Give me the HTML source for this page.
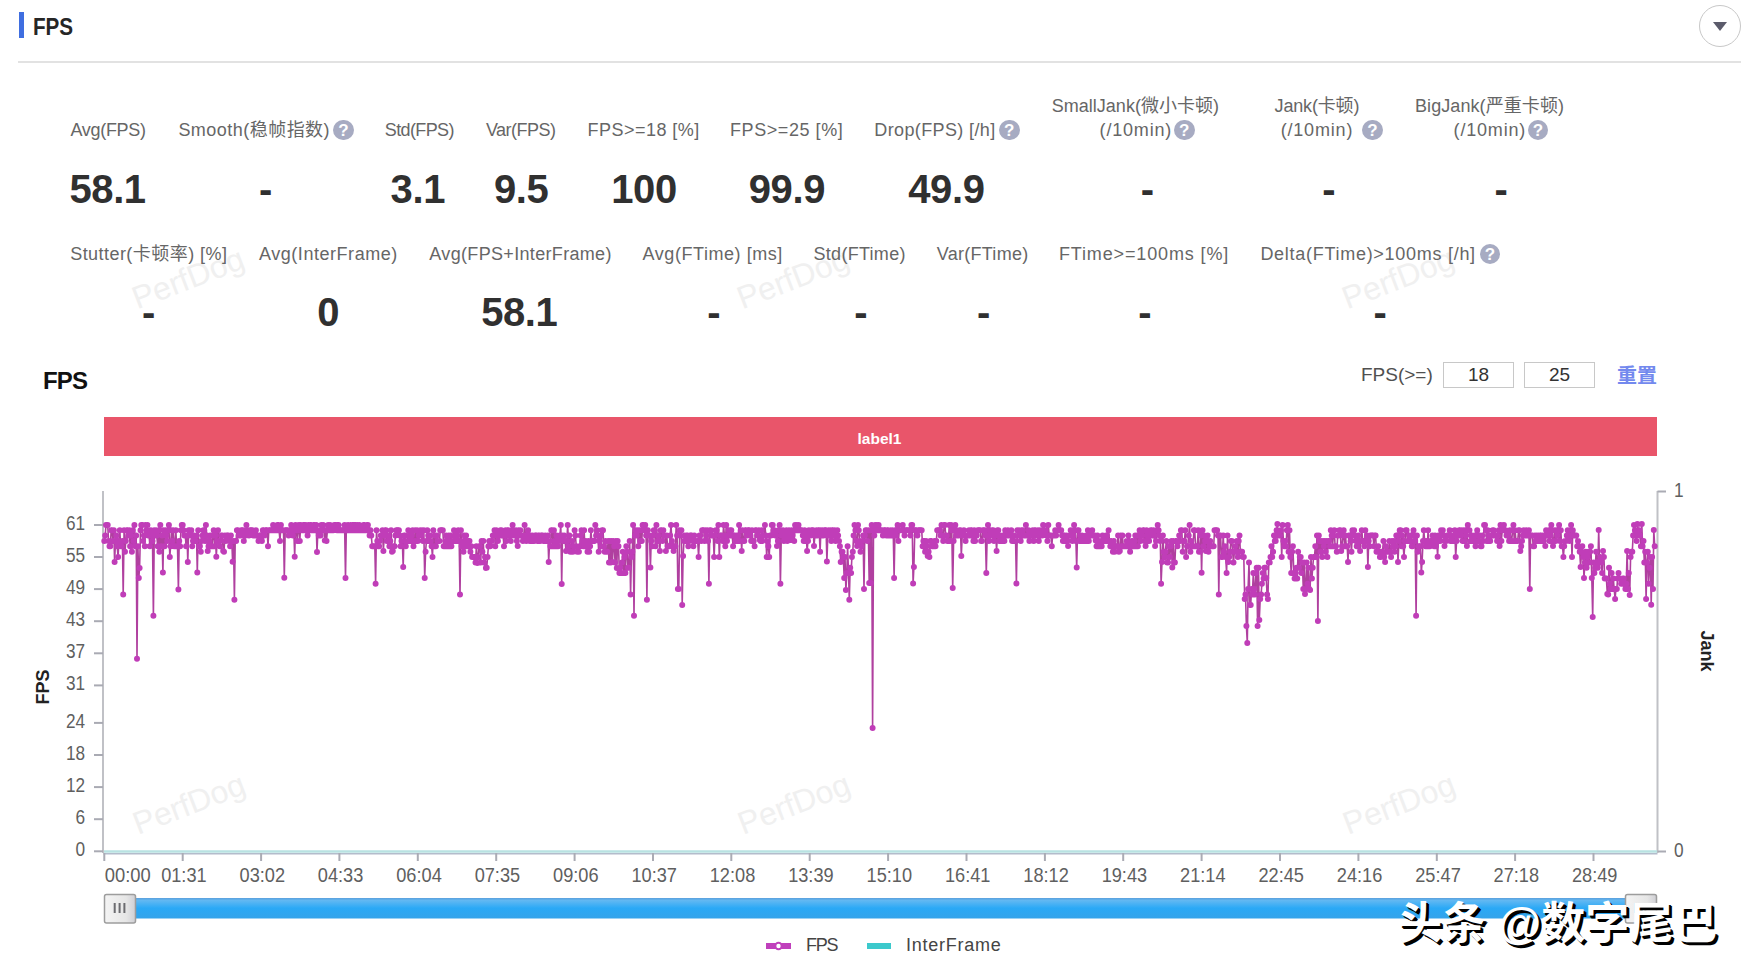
<!DOCTYPE html>
<html lang="zh-CN">
<head>
<meta charset="utf-8">
<title>FPS</title>
<style>
html,body{margin:0;padding:0;background:#fff;}
body{width:1750px;height:976px;position:relative;overflow:hidden;
  font-family:"Liberation Sans","Noto Sans CJK SC",sans-serif;color:#333;}
.a{position:absolute;white-space:nowrap;}
.c{transform:translateX(-50%);}
.bar{left:19px;top:12px;width:5px;height:26px;background:#3f6ee0;}
.title{left:33px;top:13px;font-size:24px;font-weight:bold;color:#262626;letter-spacing:0;transform:scaleX(0.86);transform-origin:0 0;}
.sep{left:18px;top:60.5px;width:1723px;height:2px;background:#e2e2e2;}
.circ{left:1699px;top:4.5px;width:42px;height:42px;border:1.8px solid #c8c8c8;border-radius:50%;box-sizing:border-box;}
.tri{left:1712.5px;top:22.2px;width:0;height:0;border-left:7px solid transparent;border-right:7px solid transparent;border-top:9px solid #5b5b6b;}
.lbl{font-size:18px;color:#666;line-height:24px;}
.val{font-size:40px;font-weight:bold;color:#303030;line-height:40px;letter-spacing:-0.4px;}
.q{width:20.5px;height:20.5px;border-radius:50%;background:#a7abc2;color:#fff;font-size:17px;font-weight:bold;line-height:21.5px;text-align:center;}
.wm{font-size:32px;color:#f0f0f0;transform:rotate(-21deg);transform-origin:0 100%;}
.sub{left:43px;top:367px;font-size:24px;font-weight:bold;color:#111;letter-spacing:-0.8px;}
.inp{box-sizing:border-box;height:26px;border:1px solid #c8c8c8;font-size:19px;color:#333;text-align:center;line-height:24px;}
.tick{font-size:18px;color:#666;}
</style>
</head>
<body>
<div class="a bar"></div>
<div class="a title">FPS</div>
<div class="a sep"></div>
<div class="a circ"></div>
<div class="a tri"></div>

<!-- watermarks -->
<div class="a wm" style="left:140px;top:280px;">PerfDog</div>
<div class="a wm" style="left:745px;top:280px;">PerfDog</div>
<div class="a wm" style="left:1350px;top:280px;">PerfDog</div>

<div class="a lbl" id="l1" style="left:70.4px;top:117.8px;letter-spacing:-0.30px;">Avg(FPS)</div>
<div class="a lbl" id="l2" style="left:178.4px;top:117.8px;letter-spacing:0.47px;">Smooth(稳帧指数)</div>
<div class="a lbl" id="l3" style="left:384.8px;top:117.8px;letter-spacing:-0.63px;">Std(FPS)</div>
<div class="a lbl" id="l4" style="left:485.9px;top:117.8px;letter-spacing:-0.51px;">Var(FPS)</div>
<div class="a lbl" id="l5" style="left:587.6px;top:117.8px;letter-spacing:0.46px;">FPS&gt;=18 [%]</div>
<div class="a lbl" id="l6" style="left:730.0px;top:117.8px;letter-spacing:0.57px;">FPS&gt;=25 [%]</div>
<div class="a lbl" id="l7" style="left:874.3px;top:117.8px;letter-spacing:0.38px;">Drop(FPS) [/h]</div>
<div class="a lbl" id="l8" style="left:1051.7px;top:94.0px;letter-spacing:0.02px;">SmallJank(微小卡顿)</div>
<div class="a lbl" id="l9" style="left:1099.6px;top:117.8px;letter-spacing:0.81px;">(/10min)</div>
<div class="a lbl" id="l10" style="left:1274.6px;top:94.0px;letter-spacing:-0.17px;">Jank(卡顿)</div>
<div class="a lbl" id="l11" style="left:1280.7px;top:117.8px;letter-spacing:0.81px;">(/10min)</div>
<div class="a lbl" id="l12" style="left:1415.0px;top:94.0px;letter-spacing:0.08px;">BigJank(严重卡顿)</div>
<div class="a lbl" id="l13" style="left:1453.6px;top:117.8px;letter-spacing:0.81px;">(/10min)</div>
<div class="a lbl" id="l14" style="left:70.2px;top:242.3px;letter-spacing:0.45px;">Stutter(卡顿率) [%]</div>
<div class="a lbl" id="l15" style="left:259.0px;top:242.3px;letter-spacing:0.54px;">Avg(InterFrame)</div>
<div class="a lbl" id="l16" style="left:429.3px;top:242.3px;letter-spacing:0.33px;">Avg(FPS+InterFrame)</div>
<div class="a lbl" id="l17" style="left:642.6px;top:242.3px;letter-spacing:0.55px;">Avg(FTime) [ms]</div>
<div class="a lbl" id="l18" style="left:813.5px;top:242.3px;letter-spacing:0.29px;">Std(FTime)</div>
<div class="a lbl" id="l19" style="left:936.7px;top:242.3px;letter-spacing:0.28px;">Var(FTime)</div>
<div class="a lbl" id="l20" style="left:1058.9px;top:242.3px;letter-spacing:0.87px;">FTime&gt;=100ms [%]</div>
<div class="a lbl" id="l21" style="left:1260.4px;top:242.3px;letter-spacing:0.72px;">Delta(FTime)&gt;100ms [/h]</div>
<div class="a q" style="left:333.1px;top:119.8px;">?</div>
<div class="a q" style="left:999.0px;top:119.8px;">?</div>
<div class="a q" style="left:1174.0px;top:119.8px;">?</div>
<div class="a q" style="left:1362.2px;top:119.8px;">?</div>
<div class="a q" style="left:1527.8px;top:119.8px;">?</div>
<div class="a q" style="left:1479.8px;top:243.8px;">?</div>
<div class="a val c" style="left:107.6px;top:168.9px;">58.1</div>
<div class="a val c" style="left:265.5px;top:168.9px;">-</div>
<div class="a val c" style="left:417.8px;top:168.9px;">3.1</div>
<div class="a val c" style="left:521.2px;top:168.9px;">9.5</div>
<div class="a val c" style="left:644.0px;top:168.9px;">100</div>
<div class="a val c" style="left:786.9px;top:168.9px;">99.9</div>
<div class="a val c" style="left:946.4px;top:168.9px;">49.9</div>
<div class="a val c" style="left:1147.3px;top:168.9px;">-</div>
<div class="a val c" style="left:1328.8px;top:168.9px;">-</div>
<div class="a val c" style="left:1501.0px;top:168.9px;">-</div>
<div class="a val c" style="left:148.5px;top:292.4px;">-</div>
<div class="a val c" style="left:328.1px;top:292.4px;">0</div>
<div class="a val c" style="left:519.3px;top:292.4px;">58.1</div>
<div class="a val c" style="left:713.7px;top:292.4px;">-</div>
<div class="a val c" style="left:860.8px;top:292.4px;">-</div>
<div class="a val c" style="left:983.4px;top:292.4px;">-</div>
<div class="a val c" style="left:1144.7px;top:292.4px;">-</div>
<div class="a val c" style="left:1380.0px;top:292.4px;">-</div>

<!-- chart sub header -->
<div class="a sub">FPS</div>
<div class="a lbl" style="left:1361px;top:363px;font-size:19px;color:#505050;">FPS(&gt;=)</div>
<div class="a inp" style="left:1443px;top:362px;width:71px;">18</div>
<div class="a inp" style="left:1524px;top:362px;width:71px;">25</div>
<div class="a" style="left:1617px;top:363px;font-size:20px;font-weight:bold;color:#7389ee;line-height:26px;">重置</div>

<svg class="a" style="left:0;top:0" width="1750" height="976" viewBox="0 0 1750 976">
<rect x="104" y="417" width="1553" height="39" fill="#e9556a"/>
<text x="879.5" y="443.5" font-size="15.5" font-weight="bold" fill="#fff" text-anchor="middle" font-family="Liberation Sans, sans-serif">label1</text>
<g stroke="#aaabb4" stroke-width="2" fill="none">
<path d="M103 491V853" stroke="#c0c1c6"/>
<path d="M1657.5 491V853" stroke="#c0c1c6"/>
<path d="M94 851.3H103" stroke="#a9aab3"/>
<path d="M94 819.2H103" stroke="#a9aab3"/>
<path d="M94 787.1H103" stroke="#a9aab3"/>
<path d="M94 755.0H103" stroke="#a9aab3"/>
<path d="M94 722.9H103" stroke="#a9aab3"/>
<path d="M94 685.4H103" stroke="#a9aab3"/>
<path d="M94 653.3H103" stroke="#a9aab3"/>
<path d="M94 621.2H103" stroke="#a9aab3"/>
<path d="M94 589.1H103" stroke="#a9aab3"/>
<path d="M94 557.0H103" stroke="#a9aab3"/>
<path d="M94 525.0H103" stroke="#a9aab3"/>
<path d="M1657.5 491.5H1666M1657.5 851.5H1666"/>
<path d="M103.5 853.8H1657.5" stroke="#b3bccb" stroke-width="1.6"/>
<path d="M104.3 853V861"/>
<path d="M182.7 853V861"/>
<path d="M261.1 853V861"/>
<path d="M339.4 853V861"/>
<path d="M417.8 853V861"/>
<path d="M496.2 853V861"/>
<path d="M574.6 853V861"/>
<path d="M653.0 853V861"/>
<path d="M731.3 853V861"/>
<path d="M809.7 853V861"/>
<path d="M888.1 853V861"/>
<path d="M966.5 853V861"/>
<path d="M1044.9 853V861"/>
<path d="M1123.2 853V861"/>
<path d="M1201.6 853V861"/>
<path d="M1280.0 853V861"/>
<path d="M1358.4 853V861"/>
<path d="M1436.8 853V861"/>
<path d="M1515.1 853V861"/>
<path d="M1593.5 853V861"/>
</g>
<g font-size="20" fill="#5f5f5f" font-family="Liberation Sans, sans-serif" text-anchor="end">
<text x="85" y="856.2" textLength="9.6" lengthAdjust="spacingAndGlyphs">0</text>
<text x="85" y="824.1" textLength="9.6" lengthAdjust="spacingAndGlyphs">6</text>
<text x="85" y="792.0" textLength="19.1" lengthAdjust="spacingAndGlyphs">12</text>
<text x="85" y="759.9" textLength="19.1" lengthAdjust="spacingAndGlyphs">18</text>
<text x="85" y="727.8" textLength="19.1" lengthAdjust="spacingAndGlyphs">24</text>
<text x="85" y="690.3" textLength="19.1" lengthAdjust="spacingAndGlyphs">31</text>
<text x="85" y="658.2" textLength="19.1" lengthAdjust="spacingAndGlyphs">37</text>
<text x="85" y="626.1" textLength="19.1" lengthAdjust="spacingAndGlyphs">43</text>
<text x="85" y="594.0" textLength="19.1" lengthAdjust="spacingAndGlyphs">49</text>
<text x="85" y="561.9" textLength="19.1" lengthAdjust="spacingAndGlyphs">55</text>
<text x="85" y="529.9" textLength="19.1" lengthAdjust="spacingAndGlyphs">61</text>
</g>
<g font-size="20" fill="#5f5f5f" font-family="Liberation Sans, sans-serif">
<text x="1674" y="496.5" textLength="9.6" lengthAdjust="spacingAndGlyphs">1</text><text x="1674" y="856.5" textLength="9.6" lengthAdjust="spacingAndGlyphs">0</text>
</g>
<g font-size="20" fill="#5f5f5f" font-family="Liberation Sans, sans-serif" text-anchor="middle">
<text x="104.8" y="881.5" text-anchor="start" textLength="46" lengthAdjust="spacingAndGlyphs">00:00</text>
<text x="183.9" y="881.5" textLength="45.5" lengthAdjust="spacingAndGlyphs">01:31</text>
<text x="262.3" y="881.5" textLength="45.5" lengthAdjust="spacingAndGlyphs">03:02</text>
<text x="340.6" y="881.5" textLength="45.5" lengthAdjust="spacingAndGlyphs">04:33</text>
<text x="419.0" y="881.5" textLength="45.5" lengthAdjust="spacingAndGlyphs">06:04</text>
<text x="497.4" y="881.5" textLength="45.5" lengthAdjust="spacingAndGlyphs">07:35</text>
<text x="575.8" y="881.5" textLength="45.5" lengthAdjust="spacingAndGlyphs">09:06</text>
<text x="654.2" y="881.5" textLength="45.5" lengthAdjust="spacingAndGlyphs">10:37</text>
<text x="732.5" y="881.5" textLength="45.5" lengthAdjust="spacingAndGlyphs">12:08</text>
<text x="810.9" y="881.5" textLength="45.5" lengthAdjust="spacingAndGlyphs">13:39</text>
<text x="889.3" y="881.5" textLength="45.5" lengthAdjust="spacingAndGlyphs">15:10</text>
<text x="967.7" y="881.5" textLength="45.5" lengthAdjust="spacingAndGlyphs">16:41</text>
<text x="1046.1" y="881.5" textLength="45.5" lengthAdjust="spacingAndGlyphs">18:12</text>
<text x="1124.4" y="881.5" textLength="45.5" lengthAdjust="spacingAndGlyphs">19:43</text>
<text x="1202.8" y="881.5" textLength="45.5" lengthAdjust="spacingAndGlyphs">21:14</text>
<text x="1281.2" y="881.5" textLength="45.5" lengthAdjust="spacingAndGlyphs">22:45</text>
<text x="1359.6" y="881.5" textLength="45.5" lengthAdjust="spacingAndGlyphs">24:16</text>
<text x="1438.0" y="881.5" textLength="45.5" lengthAdjust="spacingAndGlyphs">25:47</text>
<text x="1516.3" y="881.5" textLength="45.5" lengthAdjust="spacingAndGlyphs">27:18</text>
<text x="1594.7" y="881.5" textLength="45.5" lengthAdjust="spacingAndGlyphs">28:49</text>
</g>
<text transform="translate(49 687) rotate(-90)" font-size="18" font-weight="bold" fill="#222" text-anchor="middle" font-family="Liberation Sans, sans-serif">FPS</text>
<text transform="translate(1701 651) rotate(90)" font-size="18" font-weight="bold" fill="#222" text-anchor="middle" font-family="Liberation Sans, sans-serif">Jank</text>
<text transform="translate(138 835) rotate(-21)" font-size="32" fill="#f0f0f0" font-family="Liberation Sans, sans-serif">PerfDog</text>
<text transform="translate(743 835) rotate(-21)" font-size="32" fill="#f0f0f0" font-family="Liberation Sans, sans-serif">PerfDog</text>
<text transform="translate(1348 835) rotate(-21)" font-size="32" fill="#f0f0f0" font-family="Liberation Sans, sans-serif">PerfDog</text>
<path d="M104 851.5H1657" stroke="#b8e2e2" stroke-width="2.6"/>
<path d="M104.3 541.0 105.2 535.6 106.0 525.0 106.9 525.0 107.7 525.0 108.6 541.0 109.5 546.3 110.3 546.3 111.2 530.3 112.1 530.3 112.9 541.0 113.8 530.3 114.6 562.0 115.5 541.0 116.4 535.6 117.2 546.3 118.1 557.0 118.9 541.0 119.8 530.3 120.7 546.3 121.5 546.3 122.4 541.0 123.2 594.4 124.1 530.3 125.0 551.7 125.8 541.0 126.7 530.3 127.6 530.3 128.4 535.6 129.3 530.3 130.1 546.3 131.0 535.6 131.9 551.7 132.7 530.3 133.6 541.0 134.4 525.0 135.3 546.3 136.2 535.6 137.0 658.7 137.9 546.3 138.8 578.0 139.6 568.0 140.5 530.3 141.3 525.0 142.2 525.0 143.1 541.0 143.9 535.6 144.8 546.3 145.6 525.0 146.5 530.3 147.4 525.0 148.2 535.6 149.1 535.6 149.9 546.3 150.8 530.3 151.7 535.6 152.5 541.0 153.4 615.7 154.3 530.3 155.1 535.6 156.0 530.3 156.8 535.6 157.7 546.3 158.6 530.3 159.4 551.7 160.3 525.0 161.1 546.3 162.0 535.6 162.9 572.6 163.7 530.3 164.6 546.3 165.5 530.3 166.3 535.6 167.2 541.0 168.0 530.3 168.9 525.0 169.8 557.0 170.6 546.3 171.5 530.3 172.3 541.0 173.2 530.3 174.1 546.3 174.9 546.3 175.8 530.3 176.7 546.3 177.5 546.3 178.4 589.5 179.2 541.0 180.1 546.3 181.0 530.3 181.8 525.0 182.7 525.0 183.5 530.3 184.4 535.6 185.3 535.6 186.1 546.3 187.0 535.6 187.8 562.0 188.7 530.3 189.6 530.3 190.4 535.6 191.3 530.3 192.2 546.3 193.0 541.0 193.9 535.6 194.7 541.0 195.6 541.0 196.5 535.6 197.3 572.6 198.2 530.3 199.0 546.3 199.9 546.3 200.8 551.7 201.6 541.0 202.5 535.6 203.4 530.3 204.2 530.3 205.1 541.0 205.9 525.0 206.8 535.6 207.7 551.0 208.5 546.3 209.4 541.0 210.2 535.6 211.1 546.3 212.0 546.3 212.8 535.6 213.7 530.3 214.5 546.3 215.4 535.6 216.3 556.7 217.1 541.0 218.0 530.3 218.9 541.0 219.7 546.3 220.6 541.0 221.4 535.6 222.3 535.6 223.2 551.0 224.0 551.7 224.9 535.6 225.7 541.0 226.6 535.6 227.5 535.6 228.3 535.6 229.2 541.0 230.1 546.3 230.9 535.6 231.8 541.0 232.6 561.8 233.5 541.0 234.4 599.7 235.2 541.0 236.1 541.0 236.9 530.3 237.8 530.3 238.7 535.6 239.5 535.6 240.4 535.6 241.2 530.3 242.1 530.3 243.0 530.3 243.8 541.0 244.7 535.6 245.6 535.6 246.4 525.0 247.3 530.3 248.1 530.3 249.0 535.6 249.9 530.3 250.7 530.3 251.6 530.3 252.4 530.3 253.3 535.6 254.2 535.6 255.0 535.6 255.9 530.3 256.8 535.6 257.6 535.6 258.5 541.0 259.3 535.6 260.2 535.6 261.1 535.6 261.9 541.0 262.8 530.3 263.6 530.3 264.5 535.6 265.4 530.3 266.2 530.3 267.1 530.3 268.0 546.3 268.8 530.3 269.7 530.3 270.5 530.3 271.4 530.3 272.3 530.3 273.1 525.0 274.0 530.3 274.8 530.3 275.7 530.3 276.6 530.3 277.4 525.0 278.3 525.0 279.1 530.3 280.0 541.0 280.9 525.0 281.7 530.3 282.6 530.3 283.5 530.3 284.3 577.7 285.2 530.3 286.0 530.3 286.9 530.3 287.8 530.3 288.6 535.6 289.5 530.3 290.3 530.3 291.2 525.0 292.1 530.3 292.9 535.6 293.8 530.3 294.7 556.7 295.5 525.0 296.4 530.3 297.2 541.0 298.1 530.3 299.0 525.0 299.8 541.0 300.7 525.0 301.5 530.3 302.4 530.3 303.3 525.0 304.1 525.0 305.0 530.3 305.8 525.0 306.7 530.3 307.6 535.6 308.4 525.0 309.3 530.3 310.2 525.0 311.0 525.0 311.9 530.3 312.7 530.3 313.6 525.0 314.5 525.0 315.3 530.3 316.2 525.0 317.0 552.0 317.9 530.3 318.8 535.6 319.6 530.3 320.5 535.6 321.4 525.0 322.2 530.3 323.1 525.0 323.9 530.3 324.8 540.6 325.7 530.3 326.5 541.0 327.4 530.3 328.2 525.0 329.1 530.3 330.0 525.0 330.8 530.3 331.7 530.3 332.5 530.3 333.4 530.3 334.3 525.0 335.1 525.0 336.0 525.0 336.9 530.3 337.7 525.0 338.6 525.0 339.4 530.3 340.3 530.3 341.2 530.3 342.0 530.3 342.9 530.3 343.7 530.3 344.6 525.0 345.5 578.0 346.3 530.3 347.2 530.3 348.1 525.0 348.9 530.3 349.8 530.3 350.6 525.0 351.5 530.3 352.4 525.0 353.2 525.0 354.1 530.3 354.9 525.0 355.8 525.0 356.7 530.3 357.5 525.0 358.4 530.3 359.3 525.0 360.1 530.3 361.0 530.3 361.8 530.3 362.7 530.3 363.6 525.0 364.4 525.0 365.3 530.3 366.1 530.3 367.0 525.0 367.9 525.0 368.7 530.3 369.6 535.6 370.4 530.3 371.3 535.6 372.2 546.3 373.0 546.3 373.9 546.3 374.8 546.3 375.6 583.8 376.5 530.3 377.3 541.0 378.2 546.3 379.1 546.3 379.9 541.0 380.8 535.6 381.6 535.6 382.5 530.3 383.4 551.0 384.2 535.6 385.1 530.3 386.0 530.3 386.8 541.0 387.7 541.0 388.5 535.6 389.4 546.3 390.3 541.0 391.1 530.3 392.0 551.7 392.8 551.0 393.7 546.3 394.6 546.3 395.4 535.6 396.3 530.3 397.1 530.3 398.0 530.3 398.9 530.3 399.7 535.6 400.6 546.3 401.5 541.0 402.3 541.0 403.2 567.0 404.0 535.6 404.9 535.6 405.8 546.3 406.6 541.0 407.5 541.0 408.3 530.3 409.2 535.6 410.1 541.0 410.9 541.0 411.8 535.6 412.7 530.3 413.5 546.3 414.4 541.0 415.2 530.3 416.1 541.0 417.0 530.3 417.8 541.0 418.7 535.6 419.5 535.6 420.4 530.3 421.3 535.6 422.1 530.3 423.0 541.0 423.8 530.3 424.7 578.0 425.6 551.7 426.4 541.0 427.3 530.3 428.2 535.6 429.0 541.0 429.9 535.6 430.7 541.0 431.6 546.3 432.5 557.0 433.3 530.3 434.2 546.3 435.0 535.6 435.9 546.3 436.8 535.6 437.6 541.0 438.5 541.0 439.4 541.0 440.2 530.3 441.1 530.3 441.9 530.3 442.8 530.3 443.7 546.3 444.5 546.3 445.4 541.0 446.2 535.6 447.1 546.3 448.0 541.0 448.8 535.6 449.7 546.3 450.6 535.6 451.4 546.3 452.3 541.0 453.1 541.0 454.0 530.3 454.9 535.6 455.7 541.0 456.6 541.0 457.4 535.6 458.3 530.3 459.2 541.0 460.0 594.4 460.9 530.3 461.7 546.3 462.6 541.0 463.5 551.7 464.3 535.6 465.2 546.3 466.1 535.6 466.9 541.0 467.8 546.3 468.6 541.0 469.5 541.0 470.4 551.7 471.2 546.3 472.1 557.0 472.9 557.0 473.8 557.0 474.7 557.0 475.5 562.4 476.4 546.3 477.3 563.0 478.1 557.0 479.0 546.3 479.8 546.3 480.7 562.4 481.6 541.0 482.4 551.7 483.3 541.0 484.1 562.4 485.0 557.0 485.9 568.0 486.7 567.7 487.6 557.0 488.4 546.3 489.3 541.0 490.2 546.3 491.0 541.0 491.9 541.0 492.8 535.6 493.6 535.6 494.5 530.3 495.3 546.3 496.2 530.3 497.1 535.6 497.9 541.0 498.8 535.6 499.6 535.6 500.5 530.3 501.4 530.3 502.2 535.6 503.1 535.6 504.0 546.3 504.8 535.6 505.7 530.3 506.5 541.0 507.4 530.3 508.3 530.3 509.1 535.6 510.0 535.6 510.8 541.0 511.7 530.3 512.6 525.0 513.4 530.3 514.3 535.6 515.1 535.6 516.0 530.3 516.9 541.0 517.7 546.0 518.6 530.3 519.5 535.6 520.3 530.3 521.2 535.6 522.0 535.6 522.9 541.0 523.8 535.6 524.6 525.0 525.5 535.6 526.3 541.0 527.2 535.6 528.1 530.3 528.9 535.6 529.8 541.0 530.7 535.6 531.5 541.0 532.4 535.6 533.2 541.0 534.1 541.0 535.0 535.6 535.8 535.6 536.7 535.6 537.5 541.0 538.4 535.6 539.3 535.6 540.1 541.0 541.0 535.6 541.8 535.6 542.7 535.6 543.6 541.0 544.4 541.0 545.3 535.6 546.2 541.0 547.0 541.0 547.9 535.6 548.7 562.0 549.6 541.0 550.5 546.3 551.3 530.3 552.2 530.3 553.0 546.3 553.9 530.3 554.8 541.0 555.6 546.3 556.5 535.6 557.4 541.0 558.2 546.3 559.1 541.0 559.9 535.6 560.8 525.0 561.7 584.0 562.5 535.6 563.4 541.0 564.2 535.6 565.1 541.0 566.0 551.0 566.8 541.0 567.7 525.0 568.6 546.3 569.4 535.6 570.3 551.7 571.1 551.7 572.0 541.0 572.9 551.7 573.7 546.3 574.6 530.3 575.4 535.6 576.3 546.3 577.2 551.7 578.0 551.0 578.9 551.7 579.7 546.3 580.6 535.6 581.5 530.3 582.3 541.0 583.2 546.3 584.1 530.3 584.9 546.3 585.8 541.0 586.6 546.3 587.5 551.7 588.4 541.0 589.2 551.7 590.1 546.3 590.9 530.3 591.8 541.0 592.7 541.0 593.5 541.0 594.4 541.0 595.3 525.0 596.1 535.6 597.0 530.3 597.8 535.6 598.7 551.7 599.6 541.0 600.4 535.6 601.3 546.3 602.1 530.3 603.0 530.3 603.9 546.3 604.7 551.7 605.6 541.0 606.4 551.7 607.3 551.7 608.2 541.0 609.0 562.4 609.9 541.0 610.8 562.4 611.6 541.0 612.5 562.0 613.3 541.0 614.2 546.3 615.1 562.4 615.9 541.0 616.8 568.0 617.6 541.0 618.5 546.3 619.4 573.1 620.2 567.8 621.1 573.1 622.0 562.4 622.8 551.7 623.7 573.0 624.5 557.0 625.4 573.1 626.3 546.3 627.1 551.7 628.0 567.8 628.8 567.8 629.7 541.0 630.6 594.4 631.4 557.0 632.3 551.7 633.1 525.0 634.0 615.7 634.9 535.6 635.7 530.3 636.6 535.6 637.5 530.3 638.3 546.3 639.2 530.3 640.0 541.0 640.9 530.3 641.8 541.0 642.6 525.0 643.5 525.0 644.3 530.3 645.2 525.0 646.1 535.6 646.9 599.7 647.8 530.3 648.7 535.6 649.5 535.6 650.4 567.4 651.2 541.0 652.1 546.3 653.0 535.6 653.8 530.3 654.7 530.3 655.5 546.3 656.4 525.0 657.3 541.0 658.1 535.6 659.0 541.0 659.9 551.0 660.7 530.3 661.6 530.3 662.4 541.0 663.3 530.3 664.2 535.6 665.0 535.6 665.9 551.0 666.7 535.6 667.6 546.3 668.5 546.3 669.3 546.3 670.2 535.6 671.0 525.0 671.9 541.0 672.8 546.3 673.6 551.0 674.5 546.3 675.4 546.3 676.2 525.0 677.1 535.6 677.9 589.0 678.8 589.0 679.7 530.3 680.5 535.6 681.4 530.3 682.2 605.0 683.1 556.0 684.0 541.0 684.8 535.6 685.7 541.0 686.6 535.6 687.4 535.6 688.3 546.3 689.1 541.0 690.0 535.6 690.9 535.6 691.7 535.6 692.6 541.0 693.4 546.3 694.3 535.6 695.2 541.0 696.0 541.0 696.9 541.0 697.7 541.0 698.6 557.0 699.5 535.6 700.3 535.6 701.2 541.0 702.1 530.3 702.9 530.3 703.8 530.3 704.6 541.0 705.5 530.3 706.4 535.6 707.2 530.3 708.1 541.0 708.9 583.8 709.8 530.3 710.7 530.3 711.5 535.6 712.4 535.6 713.3 535.6 714.1 557.0 715.0 535.6 715.8 530.3 716.7 530.3 717.6 541.0 718.4 525.0 719.3 557.0 720.1 535.6 721.0 535.6 721.9 535.6 722.7 541.0 723.6 525.0 724.4 535.6 725.3 546.3 726.2 525.0 727.0 541.0 727.9 535.6 728.8 530.3 729.6 535.6 730.5 530.3 731.3 530.3 732.2 535.6 733.1 546.3 733.9 535.6 734.8 535.6 735.6 541.0 736.5 535.6 737.4 541.0 738.2 535.6 739.1 525.0 740.0 541.0 740.8 530.3 741.7 551.0 742.5 530.3 743.4 541.0 744.3 541.0 745.1 530.3 746.0 530.3 746.8 535.6 747.7 530.3 748.6 530.3 749.4 530.3 750.3 535.6 751.2 541.0 752.0 530.3 752.9 541.0 753.7 541.0 754.6 546.3 755.5 530.3 756.3 530.3 757.2 535.6 758.0 535.6 758.9 530.3 759.8 540.0 760.6 541.0 761.5 530.3 762.3 541.0 763.2 535.6 764.1 535.6 764.9 525.0 765.8 535.6 766.7 557.0 767.5 541.0 768.4 546.3 769.2 557.0 770.1 535.6 771.0 535.6 771.8 525.0 772.7 525.0 773.5 530.3 774.4 530.3 775.3 535.6 776.1 535.6 777.0 546.0 777.9 541.0 778.7 530.3 779.6 525.0 780.4 583.8 781.3 535.6 782.2 535.6 783.0 530.3 783.9 541.0 784.7 535.6 785.6 535.6 786.5 530.3 787.3 541.0 788.2 535.6 789.0 530.3 789.9 535.6 790.8 540.0 791.6 530.3 792.5 535.6 793.4 530.3 794.2 541.0 795.1 525.0 795.9 530.3 796.8 525.0 797.7 530.3 798.5 525.0 799.4 530.3 800.2 530.3 801.1 530.3 802.0 530.3 802.8 535.6 803.7 541.0 804.6 530.3 805.4 541.0 806.3 535.6 807.1 551.0 808.0 541.0 808.9 530.3 809.7 535.6 810.6 535.6 811.4 530.3 812.3 530.3 813.2 530.3 814.0 546.0 814.9 535.6 815.7 535.6 816.6 530.3 817.5 535.6 818.3 530.3 819.2 530.3 820.1 551.7 820.9 530.3 821.8 535.6 822.6 530.3 823.5 535.6 824.4 530.3 825.2 530.3 826.1 530.3 826.9 561.6 827.8 535.6 828.7 530.3 829.5 535.6 830.4 530.3 831.3 541.0 832.1 530.3 833.0 530.3 833.8 535.6 834.7 530.3 835.6 541.0 836.4 535.6 837.3 530.3 838.1 535.6 839.0 541.0 839.9 546.3 840.7 562.0 841.6 551.7 842.5 551.7 843.3 557.0 844.2 578.0 845.0 557.0 845.9 590.0 846.8 573.1 847.6 546.3 848.5 573.1 849.3 599.7 850.2 567.8 851.1 573.1 851.9 557.0 852.8 551.7 853.6 535.6 854.5 525.0 855.4 530.3 856.2 541.0 857.1 546.0 858.0 525.0 858.8 530.3 859.7 541.0 860.5 551.7 861.4 546.3 862.3 541.0 863.1 535.6 864.0 589.0 864.8 535.6 865.7 530.3 866.6 530.3 867.4 541.0 868.3 530.3 869.2 583.0 870.0 530.3 870.9 583.0 871.7 525.0 872.6 728.0 873.5 530.3 874.3 535.6 875.2 525.0 876.0 530.3 876.9 525.0 877.8 530.3 878.6 525.0 879.5 530.3 880.3 530.3 881.2 530.3 882.1 530.3 882.9 535.6 883.8 530.3 884.7 530.3 885.5 530.3 886.4 535.6 887.2 530.3 888.1 530.3 889.0 535.6 889.8 535.6 890.7 530.3 891.5 535.6 892.4 530.3 893.3 535.6 894.1 578.0 895.0 530.3 895.9 535.6 896.7 530.3 897.6 525.0 898.4 541.0 899.3 530.3 900.2 530.3 901.0 530.3 901.9 530.3 902.7 525.0 903.6 530.3 904.5 535.6 905.3 530.3 906.2 530.3 907.0 530.3 907.9 530.3 908.8 530.3 909.6 530.3 910.5 535.6 911.4 525.0 912.2 525.0 913.1 583.5 913.9 567.0 914.8 530.3 915.7 530.3 916.5 530.3 917.4 535.6 918.2 530.3 919.1 530.3 920.0 530.3 920.8 530.3 921.7 530.3 922.6 546.3 923.4 541.0 924.3 541.0 925.1 551.7 926.0 541.0 926.9 546.3 927.7 556.0 928.6 551.7 929.4 557.0 930.3 541.0 931.2 541.0 932.0 546.3 932.9 546.3 933.7 546.3 934.6 541.0 935.5 546.3 936.3 541.0 937.2 530.3 938.1 530.3 938.9 530.3 939.8 530.3 940.6 535.6 941.5 525.0 942.4 535.6 943.2 541.0 944.1 525.0 944.9 525.0 945.8 535.6 946.7 535.6 947.5 541.0 948.4 541.0 949.3 525.0 950.1 541.0 951.0 525.0 951.8 530.3 952.7 588.0 953.6 541.0 954.4 530.3 955.3 525.0 956.1 535.6 957.0 530.3 957.9 535.6 958.7 535.6 959.6 530.3 960.5 530.3 961.3 556.0 962.2 535.6 963.0 535.6 963.9 530.3 964.8 535.6 965.6 541.0 966.5 535.6 967.3 535.6 968.2 535.6 969.1 530.3 969.9 535.6 970.8 530.3 971.6 530.3 972.5 535.6 973.4 541.0 974.2 530.3 975.1 541.0 976.0 535.6 976.8 535.6 977.7 530.3 978.5 530.3 979.4 530.3 980.3 530.3 981.1 541.0 982.0 541.0 982.8 530.3 983.7 530.3 984.6 530.3 985.4 535.6 986.3 573.0 987.2 535.6 988.0 525.0 988.9 541.0 989.7 530.3 990.6 530.3 991.5 535.6 992.3 530.3 993.2 530.3 994.0 541.0 994.9 535.6 995.8 535.6 996.6 551.0 997.5 530.3 998.3 530.3 999.2 541.0 1000.1 535.6 1000.9 541.0 1001.8 541.0 1002.7 535.6 1003.5 541.0 1004.4 541.0 1005.2 530.3 1006.1 535.6 1007.0 535.6 1007.8 530.3 1008.7 535.6 1009.5 535.6 1010.4 535.6 1011.3 530.3 1012.1 541.0 1013.0 541.0 1013.9 535.6 1014.7 541.0 1015.6 541.0 1016.4 583.5 1017.3 530.3 1018.2 535.6 1019.0 530.3 1019.9 535.6 1020.7 541.0 1021.6 530.3 1022.5 530.3 1023.3 535.6 1024.2 535.6 1025.0 535.6 1025.9 525.0 1026.8 535.6 1027.6 535.6 1028.5 530.3 1029.4 541.0 1030.2 535.6 1031.1 535.6 1031.9 535.6 1032.8 530.3 1033.7 541.0 1034.5 530.3 1035.4 530.3 1036.2 535.6 1037.1 535.6 1038.0 530.3 1038.8 541.0 1039.7 530.3 1040.6 535.6 1041.4 535.6 1042.3 535.6 1043.1 525.0 1044.0 530.3 1044.9 530.3 1045.7 530.3 1046.6 535.6 1047.4 541.0 1048.3 525.0 1049.2 535.6 1050.0 535.6 1050.9 535.6 1051.8 546.3 1052.6 535.6 1053.5 535.6 1054.3 535.6 1055.2 530.3 1056.1 535.6 1056.9 530.3 1057.8 530.3 1058.6 525.0 1059.5 530.3 1060.4 530.3 1061.2 530.3 1062.1 535.6 1062.9 541.0 1063.8 535.6 1064.7 535.6 1065.5 541.0 1066.4 535.6 1067.3 541.0 1068.1 546.0 1069.0 535.6 1069.8 535.6 1070.7 530.3 1071.6 535.6 1072.4 541.0 1073.3 535.6 1074.1 525.0 1075.0 530.3 1075.9 541.0 1076.7 567.4 1077.6 530.3 1078.5 530.3 1079.3 541.0 1080.2 535.6 1081.0 541.0 1081.9 535.6 1082.8 540.5 1083.6 541.0 1084.5 541.0 1085.3 541.0 1086.2 535.6 1087.1 541.0 1087.9 530.3 1088.8 541.0 1089.6 535.6 1090.5 535.6 1091.4 535.6 1092.2 530.3 1093.1 535.6 1094.0 535.6 1094.8 535.6 1095.7 540.5 1096.5 546.3 1097.4 535.6 1098.3 541.0 1099.1 546.3 1100.0 541.0 1100.8 546.3 1101.7 546.3 1102.6 535.6 1103.4 541.0 1104.3 541.0 1105.2 541.0 1106.0 535.6 1106.9 535.6 1107.7 541.0 1108.6 530.3 1109.5 541.0 1110.3 546.3 1111.2 541.0 1112.0 546.3 1112.9 551.7 1113.8 541.0 1114.6 551.7 1115.5 546.3 1116.3 546.3 1117.2 546.3 1118.1 535.6 1118.9 551.7 1119.8 551.0 1120.7 535.6 1121.5 546.3 1122.4 535.6 1123.2 546.3 1124.1 546.3 1125.0 546.3 1125.8 546.3 1126.7 541.0 1127.5 546.3 1128.4 535.6 1129.3 541.0 1130.1 551.7 1131.0 546.3 1131.9 541.0 1132.7 541.0 1133.6 546.3 1134.4 541.0 1135.3 535.6 1136.2 546.3 1137.0 535.6 1137.9 546.3 1138.7 535.6 1139.6 530.3 1140.5 541.0 1141.3 535.6 1142.2 535.6 1143.1 530.3 1143.9 530.3 1144.8 541.0 1145.6 546.0 1146.5 530.3 1147.4 535.6 1148.2 535.6 1149.1 541.0 1149.9 535.6 1150.8 530.3 1151.7 530.3 1152.5 535.6 1153.4 530.3 1154.2 535.6 1155.1 546.0 1156.0 541.0 1156.8 530.3 1157.7 525.0 1158.6 530.3 1159.4 535.6 1160.3 541.0 1161.1 583.8 1162.0 562.0 1162.9 535.6 1163.7 551.7 1164.6 557.0 1165.4 551.7 1166.3 541.0 1167.2 562.4 1168.0 562.4 1168.9 546.3 1169.8 557.0 1170.6 546.3 1171.5 541.0 1172.3 567.4 1173.2 541.0 1174.1 562.4 1174.9 562.4 1175.8 541.0 1176.6 541.0 1177.5 546.3 1178.4 541.0 1179.2 535.6 1180.1 541.0 1180.9 530.3 1181.8 530.3 1182.7 551.7 1183.5 541.0 1184.4 541.0 1185.3 530.3 1186.1 557.0 1187.0 546.3 1187.8 546.3 1188.7 535.6 1189.6 525.0 1190.4 551.7 1191.3 541.0 1192.1 546.3 1193.0 546.3 1193.9 530.3 1194.7 530.3 1195.6 546.3 1196.5 546.3 1197.3 546.3 1198.2 530.3 1199.0 551.7 1199.9 551.7 1200.8 535.6 1201.6 572.8 1202.5 530.3 1203.3 546.3 1204.2 535.6 1205.1 541.0 1205.9 551.0 1206.8 541.0 1207.6 535.6 1208.5 551.7 1209.4 546.3 1210.2 541.0 1211.1 546.0 1212.0 546.3 1212.8 546.3 1213.7 546.3 1214.5 530.3 1215.4 530.3 1216.3 530.3 1217.1 530.3 1218.0 535.6 1218.8 594.4 1219.7 535.6 1220.6 535.6 1221.4 557.0 1222.3 557.0 1223.2 535.6 1224.0 551.7 1224.9 546.3 1225.7 557.0 1226.6 573.0 1227.5 535.6 1228.3 562.0 1229.2 557.0 1230.0 551.7 1230.9 541.0 1231.8 541.0 1232.6 551.7 1233.5 562.4 1234.4 551.7 1235.2 546.3 1236.1 551.7 1236.9 541.0 1237.8 557.0 1238.7 541.0 1239.5 535.6 1240.4 551.7 1241.2 551.7 1242.1 551.7 1243.0 557.0 1243.8 557.0 1244.7 599.0 1245.5 594.5 1246.4 626.0 1247.3 643.0 1248.1 589.1 1249.0 562.4 1249.9 605.0 1250.7 605.0 1251.6 589.1 1252.4 594.5 1253.3 573.1 1254.2 589.1 1255.0 594.5 1255.9 573.1 1256.7 567.8 1257.6 626.0 1258.5 567.8 1259.3 620.0 1260.2 599.0 1261.1 594.5 1261.9 583.8 1262.8 573.1 1263.6 578.5 1264.5 567.8 1265.4 567.8 1266.2 578.0 1267.1 594.5 1267.9 599.0 1268.8 562.4 1269.7 562.4 1270.5 557.0 1271.4 546.3 1272.2 557.0 1273.1 551.7 1274.0 535.6 1274.8 541.0 1275.7 541.0 1276.6 530.3 1277.4 524.0 1278.3 535.6 1279.1 535.6 1280.0 535.6 1280.9 530.3 1281.7 557.0 1282.6 525.0 1283.4 541.0 1284.3 546.3 1285.2 541.0 1286.0 546.3 1286.9 530.3 1287.8 525.0 1288.6 551.7 1289.5 530.3 1290.3 557.0 1291.2 573.1 1292.1 551.7 1292.9 546.3 1293.8 573.0 1294.6 578.5 1295.5 573.1 1296.4 567.8 1297.2 578.5 1298.1 551.7 1298.9 567.8 1299.8 557.0 1300.7 557.0 1301.5 573.1 1302.4 562.4 1303.3 589.1 1304.1 562.4 1305.0 594.0 1305.8 589.1 1306.7 562.4 1307.6 583.8 1308.4 567.8 1309.3 589.1 1310.1 590.0 1311.0 557.0 1311.9 578.5 1312.7 567.8 1313.6 557.0 1314.5 557.0 1315.3 546.3 1316.2 557.0 1317.0 535.6 1317.9 621.0 1318.8 535.6 1319.6 541.0 1320.5 551.7 1321.3 541.0 1322.2 557.0 1323.1 541.0 1323.9 546.3 1324.8 541.0 1325.6 551.7 1326.5 541.0 1327.4 557.0 1328.2 541.0 1329.1 541.0 1330.0 546.3 1330.8 530.3 1331.7 535.6 1332.5 546.3 1333.4 535.6 1334.3 530.3 1335.1 546.3 1336.0 546.3 1336.8 551.7 1337.7 535.6 1338.6 535.6 1339.4 530.3 1340.3 530.3 1341.2 551.0 1342.0 546.3 1342.9 535.6 1343.7 530.3 1344.6 546.3 1345.5 535.6 1346.3 546.3 1347.2 546.3 1348.0 562.0 1348.9 535.6 1349.8 535.6 1350.6 541.0 1351.5 551.7 1352.4 530.3 1353.2 535.6 1354.1 530.3 1354.9 535.6 1355.8 541.0 1356.7 546.3 1357.5 546.3 1358.4 535.6 1359.2 541.0 1360.1 551.0 1361.0 541.0 1361.8 530.3 1362.7 541.0 1363.5 541.0 1364.4 546.3 1365.3 530.3 1366.1 541.0 1367.0 535.6 1367.9 567.0 1368.7 541.0 1369.6 546.3 1370.4 535.6 1371.3 535.6 1372.2 535.6 1373.0 535.6 1373.9 546.3 1374.7 535.6 1375.6 535.6 1376.5 551.7 1377.3 551.7 1378.2 546.3 1379.1 551.7 1379.9 557.0 1380.8 557.0 1381.6 551.7 1382.5 551.7 1383.4 541.0 1384.2 557.0 1385.1 562.0 1385.9 546.3 1386.8 551.7 1387.7 551.7 1388.5 551.7 1389.4 541.0 1390.2 551.7 1391.1 557.0 1392.0 541.0 1392.8 546.3 1393.7 541.0 1394.6 551.7 1395.4 546.3 1396.3 535.6 1397.1 535.6 1398.0 562.0 1398.9 541.0 1399.7 530.3 1400.6 530.3 1401.4 546.3 1402.3 535.6 1403.2 546.3 1404.0 557.0 1404.9 541.0 1405.8 530.3 1406.6 530.3 1407.5 541.0 1408.3 541.0 1409.2 535.6 1410.1 541.0 1410.9 535.6 1411.8 546.3 1412.6 546.3 1413.5 530.3 1414.4 535.6 1415.2 541.0 1416.1 615.7 1416.9 535.6 1417.8 551.7 1418.7 546.3 1419.5 546.3 1420.4 546.3 1421.3 572.6 1422.1 562.0 1423.0 541.0 1423.8 530.3 1424.7 541.0 1425.6 546.3 1426.4 541.0 1427.3 546.3 1428.1 530.3 1429.0 546.3 1429.9 546.3 1430.7 541.0 1431.6 541.0 1432.5 535.6 1433.3 541.0 1434.2 546.3 1435.0 535.6 1435.9 546.3 1436.8 541.0 1437.6 556.7 1438.5 535.6 1439.3 541.0 1440.2 541.0 1441.1 530.3 1441.9 535.6 1442.8 530.3 1443.7 535.6 1444.5 546.0 1445.4 541.0 1446.2 541.0 1447.1 535.6 1448.0 535.6 1448.8 535.6 1449.7 530.3 1450.5 541.0 1451.4 535.6 1452.3 541.0 1453.1 535.6 1454.0 541.0 1454.8 530.3 1455.7 557.0 1456.6 541.0 1457.4 535.6 1458.3 535.6 1459.2 530.3 1460.0 530.3 1460.9 535.6 1461.7 530.3 1462.6 541.0 1463.5 530.3 1464.3 541.0 1465.2 530.3 1466.0 535.6 1466.9 546.0 1467.8 525.0 1468.6 530.3 1469.5 530.3 1470.4 541.0 1471.2 535.6 1472.1 535.6 1472.9 541.0 1473.8 541.0 1474.7 535.6 1475.5 546.3 1476.4 541.0 1477.2 530.3 1478.1 541.0 1479.0 535.6 1479.8 535.6 1480.7 546.3 1481.5 546.3 1482.4 535.6 1483.3 541.0 1484.1 525.0 1485.0 525.0 1485.9 530.3 1486.7 541.0 1487.6 530.3 1488.4 535.6 1489.3 541.0 1490.2 541.0 1491.0 535.6 1491.9 535.6 1492.7 530.3 1493.6 530.3 1494.5 535.6 1495.3 535.6 1496.2 535.6 1497.1 541.0 1497.9 535.6 1498.8 530.3 1499.6 546.0 1500.5 525.0 1501.4 541.0 1502.2 530.3 1503.1 530.3 1503.9 525.0 1504.8 530.3 1505.7 530.3 1506.5 535.6 1507.4 535.6 1508.2 535.6 1509.1 541.0 1510.0 530.3 1510.8 541.0 1511.7 541.0 1512.6 530.3 1513.4 525.0 1514.3 541.0 1515.1 530.3 1516.0 541.0 1516.9 541.0 1517.7 541.0 1518.6 530.3 1519.4 530.3 1520.3 551.0 1521.2 546.3 1522.0 541.0 1522.9 535.6 1523.8 530.3 1524.6 535.6 1525.5 535.6 1526.3 530.3 1527.2 535.6 1528.1 535.6 1528.9 530.3 1529.8 589.0 1530.6 535.6 1531.5 535.6 1532.4 535.6 1533.2 546.3 1534.1 546.3 1535.0 535.6 1535.8 541.0 1536.7 535.6 1537.5 541.0 1538.4 535.6 1539.3 541.0 1540.1 535.6 1541.0 535.6 1541.8 541.0 1542.7 535.6 1543.6 541.0 1544.4 535.6 1545.3 546.0 1546.1 530.3 1547.0 535.6 1547.9 535.6 1548.7 530.3 1549.6 541.0 1550.5 535.6 1551.3 525.0 1552.2 530.3 1553.0 546.0 1553.9 541.0 1554.8 530.3 1555.6 541.0 1556.5 530.3 1557.3 535.6 1558.2 530.3 1559.1 525.0 1559.9 541.0 1560.8 530.3 1561.7 546.3 1562.5 546.3 1563.4 557.0 1564.2 546.3 1565.1 541.0 1566.0 541.0 1566.8 535.6 1567.7 530.3 1568.5 535.6 1569.4 541.0 1570.3 535.6 1571.1 525.0 1572.0 557.0 1572.8 530.3 1573.7 535.6 1574.6 535.6 1575.4 535.6 1576.3 535.6 1577.2 546.3 1578.0 541.0 1578.9 546.3 1579.7 551.7 1580.6 567.0 1581.5 551.7 1582.3 546.3 1583.2 557.0 1584.0 578.0 1584.9 562.4 1585.8 551.7 1586.6 567.8 1587.5 557.0 1588.4 551.7 1589.2 562.4 1590.1 551.7 1590.9 546.3 1591.8 578.0 1592.7 617.0 1593.5 562.4 1594.4 573.1 1595.2 567.8 1596.1 551.7 1597.0 562.0 1597.8 567.8 1598.7 530.0 1599.5 562.4 1600.4 557.0 1601.3 562.4 1602.1 573.1 1603.0 551.0 1603.9 557.0 1604.7 578.5 1605.6 578.5 1606.4 578.5 1607.3 594.0 1608.2 594.5 1609.0 567.8 1609.9 583.8 1610.7 589.1 1611.6 573.1 1612.5 589.1 1613.3 578.5 1614.2 589.1 1615.1 599.0 1615.9 589.1 1616.8 589.1 1617.6 578.5 1618.5 573.1 1619.4 578.5 1620.2 578.5 1621.1 583.8 1621.9 583.8 1622.8 578.5 1623.7 578.5 1624.5 583.8 1625.4 589.1 1626.3 583.8 1627.1 551.0 1628.0 589.1 1628.8 573.1 1629.7 595.0 1630.6 557.0 1631.4 551.7 1632.3 551.7 1633.1 535.6 1634.0 525.0 1634.9 530.3 1635.7 535.6 1636.6 541.0 1637.4 524.0 1638.3 530.3 1639.2 530.3 1640.0 535.6 1640.9 546.3 1641.8 524.0 1642.6 546.3 1643.5 541.0 1644.3 562.4 1645.2 551.7 1646.1 599.0 1646.9 562.4 1647.8 551.7 1648.6 583.8 1649.5 567.8 1650.4 557.0 1651.2 604.7 1652.1 557.0 1653.0 589.1 1653.8 530.0 1654.7 546.3" fill="none" stroke="#b0409f" stroke-width="1.6" stroke-linejoin="round"/>
<path d="M104.3 541.0h0M105.2 535.6h0M106.0 525.0h0M106.9 525.0h0M107.7 525.0h0M108.6 541.0h0M109.5 546.3h0M110.3 546.3h0M111.2 530.3h0M112.1 530.3h0M112.9 541.0h0M113.8 530.3h0M114.6 562.0h0M115.5 541.0h0M116.4 535.6h0M117.2 546.3h0M118.1 557.0h0M118.9 541.0h0M119.8 530.3h0M120.7 546.3h0M121.5 546.3h0M122.4 541.0h0M123.2 594.4h0M124.1 530.3h0M125.0 551.7h0M125.8 541.0h0M126.7 530.3h0M127.6 530.3h0M128.4 535.6h0M129.3 530.3h0M130.1 546.3h0M131.0 535.6h0M131.9 551.7h0M132.7 530.3h0M133.6 541.0h0M134.4 525.0h0M135.3 546.3h0M136.2 535.6h0M137.0 658.7h0M137.9 546.3h0M138.8 578.0h0M139.6 568.0h0M140.5 530.3h0M141.3 525.0h0M142.2 525.0h0M143.1 541.0h0M143.9 535.6h0M144.8 546.3h0M145.6 525.0h0M146.5 530.3h0M147.4 525.0h0M148.2 535.6h0M149.1 535.6h0M149.9 546.3h0M150.8 530.3h0M151.7 535.6h0M152.5 541.0h0M153.4 615.7h0M154.3 530.3h0M155.1 535.6h0M156.0 530.3h0M156.8 535.6h0M157.7 546.3h0M158.6 530.3h0M159.4 551.7h0M160.3 525.0h0M161.1 546.3h0M162.0 535.6h0M162.9 572.6h0M163.7 530.3h0M164.6 546.3h0M165.5 530.3h0M166.3 535.6h0M167.2 541.0h0M168.0 530.3h0M168.9 525.0h0M169.8 557.0h0M170.6 546.3h0M171.5 530.3h0M172.3 541.0h0M173.2 530.3h0M174.1 546.3h0M174.9 546.3h0M175.8 530.3h0M176.7 546.3h0M177.5 546.3h0M178.4 589.5h0M179.2 541.0h0M180.1 546.3h0M181.0 530.3h0M181.8 525.0h0M182.7 525.0h0M183.5 530.3h0M184.4 535.6h0M185.3 535.6h0M186.1 546.3h0M187.0 535.6h0M187.8 562.0h0M188.7 530.3h0M189.6 530.3h0M190.4 535.6h0M191.3 530.3h0M192.2 546.3h0M193.0 541.0h0M193.9 535.6h0M194.7 541.0h0M195.6 541.0h0M196.5 535.6h0M197.3 572.6h0M198.2 530.3h0M199.0 546.3h0M199.9 546.3h0M200.8 551.7h0M201.6 541.0h0M202.5 535.6h0M203.4 530.3h0M204.2 530.3h0M205.1 541.0h0M205.9 525.0h0M206.8 535.6h0M207.7 551.0h0M208.5 546.3h0M209.4 541.0h0M210.2 535.6h0M211.1 546.3h0M212.0 546.3h0M212.8 535.6h0M213.7 530.3h0M214.5 546.3h0M215.4 535.6h0M216.3 556.7h0M217.1 541.0h0M218.0 530.3h0M218.9 541.0h0M219.7 546.3h0M220.6 541.0h0M221.4 535.6h0M222.3 535.6h0M223.2 551.0h0M224.0 551.7h0M224.9 535.6h0M225.7 541.0h0M226.6 535.6h0M227.5 535.6h0M228.3 535.6h0M229.2 541.0h0M230.1 546.3h0M230.9 535.6h0M231.8 541.0h0M232.6 561.8h0M233.5 541.0h0M234.4 599.7h0M235.2 541.0h0M236.1 541.0h0M236.9 530.3h0M237.8 530.3h0M238.7 535.6h0M239.5 535.6h0M240.4 535.6h0M241.2 530.3h0M242.1 530.3h0M243.0 530.3h0M243.8 541.0h0M244.7 535.6h0M245.6 535.6h0M246.4 525.0h0M247.3 530.3h0M248.1 530.3h0M249.0 535.6h0M249.9 530.3h0M250.7 530.3h0M251.6 530.3h0M252.4 530.3h0M253.3 535.6h0M254.2 535.6h0M255.0 535.6h0M255.9 530.3h0M256.8 535.6h0M257.6 535.6h0M258.5 541.0h0M259.3 535.6h0M260.2 535.6h0M261.1 535.6h0M261.9 541.0h0M262.8 530.3h0M263.6 530.3h0M264.5 535.6h0M265.4 530.3h0M266.2 530.3h0M267.1 530.3h0M268.0 546.3h0M268.8 530.3h0M269.7 530.3h0M270.5 530.3h0M271.4 530.3h0M272.3 530.3h0M273.1 525.0h0M274.0 530.3h0M274.8 530.3h0M275.7 530.3h0M276.6 530.3h0M277.4 525.0h0M278.3 525.0h0M279.1 530.3h0M280.0 541.0h0M280.9 525.0h0M281.7 530.3h0M282.6 530.3h0M283.5 530.3h0M284.3 577.7h0M285.2 530.3h0M286.0 530.3h0M286.9 530.3h0M287.8 530.3h0M288.6 535.6h0M289.5 530.3h0M290.3 530.3h0M291.2 525.0h0M292.1 530.3h0M292.9 535.6h0M293.8 530.3h0M294.7 556.7h0M295.5 525.0h0M296.4 530.3h0M297.2 541.0h0M298.1 530.3h0M299.0 525.0h0M299.8 541.0h0M300.7 525.0h0M301.5 530.3h0M302.4 530.3h0M303.3 525.0h0M304.1 525.0h0M305.0 530.3h0M305.8 525.0h0M306.7 530.3h0M307.6 535.6h0M308.4 525.0h0M309.3 530.3h0M310.2 525.0h0M311.0 525.0h0M311.9 530.3h0M312.7 530.3h0M313.6 525.0h0M314.5 525.0h0M315.3 530.3h0M316.2 525.0h0M317.0 552.0h0M317.9 530.3h0M318.8 535.6h0M319.6 530.3h0M320.5 535.6h0M321.4 525.0h0M322.2 530.3h0M323.1 525.0h0M323.9 530.3h0M324.8 540.6h0M325.7 530.3h0M326.5 541.0h0M327.4 530.3h0M328.2 525.0h0M329.1 530.3h0M330.0 525.0h0M330.8 530.3h0M331.7 530.3h0M332.5 530.3h0M333.4 530.3h0M334.3 525.0h0M335.1 525.0h0M336.0 525.0h0M336.9 530.3h0M337.7 525.0h0M338.6 525.0h0M339.4 530.3h0M340.3 530.3h0M341.2 530.3h0M342.0 530.3h0M342.9 530.3h0M343.7 530.3h0M344.6 525.0h0M345.5 578.0h0M346.3 530.3h0M347.2 530.3h0M348.1 525.0h0M348.9 530.3h0M349.8 530.3h0M350.6 525.0h0M351.5 530.3h0M352.4 525.0h0M353.2 525.0h0M354.1 530.3h0M354.9 525.0h0M355.8 525.0h0M356.7 530.3h0M357.5 525.0h0M358.4 530.3h0M359.3 525.0h0M360.1 530.3h0M361.0 530.3h0M361.8 530.3h0M362.7 530.3h0M363.6 525.0h0M364.4 525.0h0M365.3 530.3h0M366.1 530.3h0M367.0 525.0h0M367.9 525.0h0M368.7 530.3h0M369.6 535.6h0M370.4 530.3h0M371.3 535.6h0M372.2 546.3h0M373.0 546.3h0M373.9 546.3h0M374.8 546.3h0M375.6 583.8h0M376.5 530.3h0M377.3 541.0h0M378.2 546.3h0M379.1 546.3h0M379.9 541.0h0M380.8 535.6h0M381.6 535.6h0M382.5 530.3h0M383.4 551.0h0M384.2 535.6h0M385.1 530.3h0M386.0 530.3h0M386.8 541.0h0M387.7 541.0h0M388.5 535.6h0M389.4 546.3h0M390.3 541.0h0M391.1 530.3h0M392.0 551.7h0M392.8 551.0h0M393.7 546.3h0M394.6 546.3h0M395.4 535.6h0M396.3 530.3h0M397.1 530.3h0M398.0 530.3h0M398.9 530.3h0M399.7 535.6h0M400.6 546.3h0M401.5 541.0h0M402.3 541.0h0M403.2 567.0h0M404.0 535.6h0M404.9 535.6h0M405.8 546.3h0M406.6 541.0h0M407.5 541.0h0M408.3 530.3h0M409.2 535.6h0M410.1 541.0h0M410.9 541.0h0M411.8 535.6h0M412.7 530.3h0M413.5 546.3h0M414.4 541.0h0M415.2 530.3h0M416.1 541.0h0M417.0 530.3h0M417.8 541.0h0M418.7 535.6h0M419.5 535.6h0M420.4 530.3h0M421.3 535.6h0M422.1 530.3h0M423.0 541.0h0M423.8 530.3h0M424.7 578.0h0M425.6 551.7h0M426.4 541.0h0M427.3 530.3h0M428.2 535.6h0M429.0 541.0h0M429.9 535.6h0M430.7 541.0h0M431.6 546.3h0M432.5 557.0h0M433.3 530.3h0M434.2 546.3h0M435.0 535.6h0M435.9 546.3h0M436.8 535.6h0M437.6 541.0h0M438.5 541.0h0M439.4 541.0h0M440.2 530.3h0M441.1 530.3h0M441.9 530.3h0M442.8 530.3h0M443.7 546.3h0M444.5 546.3h0M445.4 541.0h0M446.2 535.6h0M447.1 546.3h0M448.0 541.0h0M448.8 535.6h0M449.7 546.3h0M450.6 535.6h0M451.4 546.3h0M452.3 541.0h0M453.1 541.0h0M454.0 530.3h0M454.9 535.6h0M455.7 541.0h0M456.6 541.0h0M457.4 535.6h0M458.3 530.3h0M459.2 541.0h0M460.0 594.4h0M460.9 530.3h0M461.7 546.3h0M462.6 541.0h0M463.5 551.7h0M464.3 535.6h0M465.2 546.3h0M466.1 535.6h0M466.9 541.0h0M467.8 546.3h0M468.6 541.0h0M469.5 541.0h0M470.4 551.7h0M471.2 546.3h0M472.1 557.0h0M472.9 557.0h0M473.8 557.0h0M474.7 557.0h0M475.5 562.4h0M476.4 546.3h0M477.3 563.0h0M478.1 557.0h0M479.0 546.3h0M479.8 546.3h0M480.7 562.4h0M481.6 541.0h0M482.4 551.7h0M483.3 541.0h0M484.1 562.4h0M485.0 557.0h0M485.9 568.0h0M486.7 567.7h0M487.6 557.0h0M488.4 546.3h0M489.3 541.0h0M490.2 546.3h0M491.0 541.0h0M491.9 541.0h0M492.8 535.6h0M493.6 535.6h0M494.5 530.3h0M495.3 546.3h0M496.2 530.3h0M497.1 535.6h0M497.9 541.0h0M498.8 535.6h0M499.6 535.6h0M500.5 530.3h0M501.4 530.3h0M502.2 535.6h0M503.1 535.6h0M504.0 546.3h0M504.8 535.6h0M505.7 530.3h0M506.5 541.0h0M507.4 530.3h0M508.3 530.3h0M509.1 535.6h0M510.0 535.6h0M510.8 541.0h0M511.7 530.3h0M512.6 525.0h0M513.4 530.3h0M514.3 535.6h0M515.1 535.6h0M516.0 530.3h0M516.9 541.0h0M517.7 546.0h0M518.6 530.3h0M519.5 535.6h0M520.3 530.3h0M521.2 535.6h0M522.0 535.6h0M522.9 541.0h0M523.8 535.6h0M524.6 525.0h0M525.5 535.6h0M526.3 541.0h0M527.2 535.6h0M528.1 530.3h0M528.9 535.6h0M529.8 541.0h0M530.7 535.6h0M531.5 541.0h0M532.4 535.6h0M533.2 541.0h0M534.1 541.0h0M535.0 535.6h0M535.8 535.6h0M536.7 535.6h0M537.5 541.0h0M538.4 535.6h0M539.3 535.6h0M540.1 541.0h0M541.0 535.6h0M541.8 535.6h0M542.7 535.6h0M543.6 541.0h0M544.4 541.0h0M545.3 535.6h0M546.2 541.0h0M547.0 541.0h0M547.9 535.6h0M548.7 562.0h0M549.6 541.0h0M550.5 546.3h0M551.3 530.3h0M552.2 530.3h0M553.0 546.3h0M553.9 530.3h0M554.8 541.0h0M555.6 546.3h0M556.5 535.6h0M557.4 541.0h0M558.2 546.3h0M559.1 541.0h0M559.9 535.6h0M560.8 525.0h0M561.7 584.0h0M562.5 535.6h0M563.4 541.0h0M564.2 535.6h0M565.1 541.0h0M566.0 551.0h0M566.8 541.0h0M567.7 525.0h0M568.6 546.3h0M569.4 535.6h0M570.3 551.7h0M571.1 551.7h0M572.0 541.0h0M572.9 551.7h0M573.7 546.3h0M574.6 530.3h0M575.4 535.6h0M576.3 546.3h0M577.2 551.7h0M578.0 551.0h0M578.9 551.7h0M579.7 546.3h0M580.6 535.6h0M581.5 530.3h0M582.3 541.0h0M583.2 546.3h0M584.1 530.3h0M584.9 546.3h0M585.8 541.0h0M586.6 546.3h0M587.5 551.7h0M588.4 541.0h0M589.2 551.7h0M590.1 546.3h0M590.9 530.3h0M591.8 541.0h0M592.7 541.0h0M593.5 541.0h0M594.4 541.0h0M595.3 525.0h0M596.1 535.6h0M597.0 530.3h0M597.8 535.6h0M598.7 551.7h0M599.6 541.0h0M600.4 535.6h0M601.3 546.3h0M602.1 530.3h0M603.0 530.3h0M603.9 546.3h0M604.7 551.7h0M605.6 541.0h0M606.4 551.7h0M607.3 551.7h0M608.2 541.0h0M609.0 562.4h0M609.9 541.0h0M610.8 562.4h0M611.6 541.0h0M612.5 562.0h0M613.3 541.0h0M614.2 546.3h0M615.1 562.4h0M615.9 541.0h0M616.8 568.0h0M617.6 541.0h0M618.5 546.3h0M619.4 573.1h0M620.2 567.8h0M621.1 573.1h0M622.0 562.4h0M622.8 551.7h0M623.7 573.0h0M624.5 557.0h0M625.4 573.1h0M626.3 546.3h0M627.1 551.7h0M628.0 567.8h0M628.8 567.8h0M629.7 541.0h0M630.6 594.4h0M631.4 557.0h0M632.3 551.7h0M633.1 525.0h0M634.0 615.7h0M634.9 535.6h0M635.7 530.3h0M636.6 535.6h0M637.5 530.3h0M638.3 546.3h0M639.2 530.3h0M640.0 541.0h0M640.9 530.3h0M641.8 541.0h0M642.6 525.0h0M643.5 525.0h0M644.3 530.3h0M645.2 525.0h0M646.1 535.6h0M646.9 599.7h0M647.8 530.3h0M648.7 535.6h0M649.5 535.6h0M650.4 567.4h0M651.2 541.0h0M652.1 546.3h0M653.0 535.6h0M653.8 530.3h0M654.7 530.3h0M655.5 546.3h0M656.4 525.0h0M657.3 541.0h0M658.1 535.6h0M659.0 541.0h0M659.9 551.0h0M660.7 530.3h0M661.6 530.3h0M662.4 541.0h0M663.3 530.3h0M664.2 535.6h0M665.0 535.6h0M665.9 551.0h0M666.7 535.6h0M667.6 546.3h0M668.5 546.3h0M669.3 546.3h0M670.2 535.6h0M671.0 525.0h0M671.9 541.0h0M672.8 546.3h0M673.6 551.0h0M674.5 546.3h0M675.4 546.3h0M676.2 525.0h0M677.1 535.6h0M677.9 589.0h0M678.8 589.0h0M679.7 530.3h0M680.5 535.6h0M681.4 530.3h0M682.2 605.0h0M683.1 556.0h0M684.0 541.0h0M684.8 535.6h0M685.7 541.0h0M686.6 535.6h0M687.4 535.6h0M688.3 546.3h0M689.1 541.0h0M690.0 535.6h0M690.9 535.6h0M691.7 535.6h0M692.6 541.0h0M693.4 546.3h0M694.3 535.6h0M695.2 541.0h0M696.0 541.0h0M696.9 541.0h0M697.7 541.0h0M698.6 557.0h0M699.5 535.6h0M700.3 535.6h0M701.2 541.0h0M702.1 530.3h0M702.9 530.3h0M703.8 530.3h0M704.6 541.0h0M705.5 530.3h0M706.4 535.6h0M707.2 530.3h0M708.1 541.0h0M708.9 583.8h0M709.8 530.3h0M710.7 530.3h0M711.5 535.6h0M712.4 535.6h0M713.3 535.6h0M714.1 557.0h0M715.0 535.6h0M715.8 530.3h0M716.7 530.3h0M717.6 541.0h0M718.4 525.0h0M719.3 557.0h0M720.1 535.6h0M721.0 535.6h0M721.9 535.6h0M722.7 541.0h0M723.6 525.0h0M724.4 535.6h0M725.3 546.3h0M726.2 525.0h0M727.0 541.0h0M727.9 535.6h0M728.8 530.3h0M729.6 535.6h0M730.5 530.3h0M731.3 530.3h0M732.2 535.6h0M733.1 546.3h0M733.9 535.6h0M734.8 535.6h0M735.6 541.0h0M736.5 535.6h0M737.4 541.0h0M738.2 535.6h0M739.1 525.0h0M740.0 541.0h0M740.8 530.3h0M741.7 551.0h0M742.5 530.3h0M743.4 541.0h0M744.3 541.0h0M745.1 530.3h0M746.0 530.3h0M746.8 535.6h0M747.7 530.3h0M748.6 530.3h0M749.4 530.3h0M750.3 535.6h0M751.2 541.0h0M752.0 530.3h0M752.9 541.0h0M753.7 541.0h0M754.6 546.3h0M755.5 530.3h0M756.3 530.3h0M757.2 535.6h0M758.0 535.6h0M758.9 530.3h0M759.8 540.0h0M760.6 541.0h0M761.5 530.3h0M762.3 541.0h0M763.2 535.6h0M764.1 535.6h0M764.9 525.0h0M765.8 535.6h0M766.7 557.0h0M767.5 541.0h0M768.4 546.3h0M769.2 557.0h0M770.1 535.6h0M771.0 535.6h0M771.8 525.0h0M772.7 525.0h0M773.5 530.3h0M774.4 530.3h0M775.3 535.6h0M776.1 535.6h0M777.0 546.0h0M777.9 541.0h0M778.7 530.3h0M779.6 525.0h0M780.4 583.8h0M781.3 535.6h0M782.2 535.6h0M783.0 530.3h0M783.9 541.0h0M784.7 535.6h0M785.6 535.6h0M786.5 530.3h0M787.3 541.0h0M788.2 535.6h0M789.0 530.3h0M789.9 535.6h0M790.8 540.0h0M791.6 530.3h0M792.5 535.6h0M793.4 530.3h0M794.2 541.0h0M795.1 525.0h0M795.9 530.3h0M796.8 525.0h0M797.7 530.3h0M798.5 525.0h0M799.4 530.3h0M800.2 530.3h0M801.1 530.3h0M802.0 530.3h0M802.8 535.6h0M803.7 541.0h0M804.6 530.3h0M805.4 541.0h0M806.3 535.6h0M807.1 551.0h0M808.0 541.0h0M808.9 530.3h0M809.7 535.6h0M810.6 535.6h0M811.4 530.3h0M812.3 530.3h0M813.2 530.3h0M814.0 546.0h0M814.9 535.6h0M815.7 535.6h0M816.6 530.3h0M817.5 535.6h0M818.3 530.3h0M819.2 530.3h0M820.1 551.7h0M820.9 530.3h0M821.8 535.6h0M822.6 530.3h0M823.5 535.6h0M824.4 530.3h0M825.2 530.3h0M826.1 530.3h0M826.9 561.6h0M827.8 535.6h0M828.7 530.3h0M829.5 535.6h0M830.4 530.3h0M831.3 541.0h0M832.1 530.3h0M833.0 530.3h0M833.8 535.6h0M834.7 530.3h0M835.6 541.0h0M836.4 535.6h0M837.3 530.3h0M838.1 535.6h0M839.0 541.0h0M839.9 546.3h0M840.7 562.0h0M841.6 551.7h0M842.5 551.7h0M843.3 557.0h0M844.2 578.0h0M845.0 557.0h0M845.9 590.0h0M846.8 573.1h0M847.6 546.3h0M848.5 573.1h0M849.3 599.7h0M850.2 567.8h0M851.1 573.1h0M851.9 557.0h0M852.8 551.7h0M853.6 535.6h0M854.5 525.0h0M855.4 530.3h0M856.2 541.0h0M857.1 546.0h0M858.0 525.0h0M858.8 530.3h0M859.7 541.0h0M860.5 551.7h0M861.4 546.3h0M862.3 541.0h0M863.1 535.6h0M864.0 589.0h0M864.8 535.6h0M865.7 530.3h0M866.6 530.3h0M867.4 541.0h0M868.3 530.3h0M869.2 583.0h0M870.0 530.3h0M870.9 583.0h0M871.7 525.0h0M872.6 728.0h0M873.5 530.3h0M874.3 535.6h0M875.2 525.0h0M876.0 530.3h0M876.9 525.0h0M877.8 530.3h0M878.6 525.0h0M879.5 530.3h0M880.3 530.3h0M881.2 530.3h0M882.1 530.3h0M882.9 535.6h0M883.8 530.3h0M884.7 530.3h0M885.5 530.3h0M886.4 535.6h0M887.2 530.3h0M888.1 530.3h0M889.0 535.6h0M889.8 535.6h0M890.7 530.3h0M891.5 535.6h0M892.4 530.3h0M893.3 535.6h0M894.1 578.0h0M895.0 530.3h0M895.9 535.6h0M896.7 530.3h0M897.6 525.0h0M898.4 541.0h0M899.3 530.3h0M900.2 530.3h0M901.0 530.3h0M901.9 530.3h0M902.7 525.0h0M903.6 530.3h0M904.5 535.6h0M905.3 530.3h0M906.2 530.3h0M907.0 530.3h0M907.9 530.3h0M908.8 530.3h0M909.6 530.3h0M910.5 535.6h0M911.4 525.0h0M912.2 525.0h0M913.1 583.5h0M913.9 567.0h0M914.8 530.3h0M915.7 530.3h0M916.5 530.3h0M917.4 535.6h0M918.2 530.3h0M919.1 530.3h0M920.0 530.3h0M920.8 530.3h0M921.7 530.3h0M922.6 546.3h0M923.4 541.0h0M924.3 541.0h0M925.1 551.7h0M926.0 541.0h0M926.9 546.3h0M927.7 556.0h0M928.6 551.7h0M929.4 557.0h0M930.3 541.0h0M931.2 541.0h0M932.0 546.3h0M932.9 546.3h0M933.7 546.3h0M934.6 541.0h0M935.5 546.3h0M936.3 541.0h0M937.2 530.3h0M938.1 530.3h0M938.9 530.3h0M939.8 530.3h0M940.6 535.6h0M941.5 525.0h0M942.4 535.6h0M943.2 541.0h0M944.1 525.0h0M944.9 525.0h0M945.8 535.6h0M946.7 535.6h0M947.5 541.0h0M948.4 541.0h0M949.3 525.0h0M950.1 541.0h0M951.0 525.0h0M951.8 530.3h0M952.7 588.0h0M953.6 541.0h0M954.4 530.3h0M955.3 525.0h0M956.1 535.6h0M957.0 530.3h0M957.9 535.6h0M958.7 535.6h0M959.6 530.3h0M960.5 530.3h0M961.3 556.0h0M962.2 535.6h0M963.0 535.6h0M963.9 530.3h0M964.8 535.6h0M965.6 541.0h0M966.5 535.6h0M967.3 535.6h0M968.2 535.6h0M969.1 530.3h0M969.9 535.6h0M970.8 530.3h0M971.6 530.3h0M972.5 535.6h0M973.4 541.0h0M974.2 530.3h0M975.1 541.0h0M976.0 535.6h0M976.8 535.6h0M977.7 530.3h0M978.5 530.3h0M979.4 530.3h0M980.3 530.3h0M981.1 541.0h0M982.0 541.0h0M982.8 530.3h0M983.7 530.3h0M984.6 530.3h0M985.4 535.6h0M986.3 573.0h0M987.2 535.6h0M988.0 525.0h0M988.9 541.0h0M989.7 530.3h0M990.6 530.3h0M991.5 535.6h0M992.3 530.3h0M993.2 530.3h0M994.0 541.0h0M994.9 535.6h0M995.8 535.6h0M996.6 551.0h0M997.5 530.3h0M998.3 530.3h0M999.2 541.0h0M1000.1 535.6h0M1000.9 541.0h0M1001.8 541.0h0M1002.7 535.6h0M1003.5 541.0h0M1004.4 541.0h0M1005.2 530.3h0M1006.1 535.6h0M1007.0 535.6h0M1007.8 530.3h0M1008.7 535.6h0M1009.5 535.6h0M1010.4 535.6h0M1011.3 530.3h0M1012.1 541.0h0M1013.0 541.0h0M1013.9 535.6h0M1014.7 541.0h0M1015.6 541.0h0M1016.4 583.5h0M1017.3 530.3h0M1018.2 535.6h0M1019.0 530.3h0M1019.9 535.6h0M1020.7 541.0h0M1021.6 530.3h0M1022.5 530.3h0M1023.3 535.6h0M1024.2 535.6h0M1025.0 535.6h0M1025.9 525.0h0M1026.8 535.6h0M1027.6 535.6h0M1028.5 530.3h0M1029.4 541.0h0M1030.2 535.6h0M1031.1 535.6h0M1031.9 535.6h0M1032.8 530.3h0M1033.7 541.0h0M1034.5 530.3h0M1035.4 530.3h0M1036.2 535.6h0M1037.1 535.6h0M1038.0 530.3h0M1038.8 541.0h0M1039.7 530.3h0M1040.6 535.6h0M1041.4 535.6h0M1042.3 535.6h0M1043.1 525.0h0M1044.0 530.3h0M1044.9 530.3h0M1045.7 530.3h0M1046.6 535.6h0M1047.4 541.0h0M1048.3 525.0h0M1049.2 535.6h0M1050.0 535.6h0M1050.9 535.6h0M1051.8 546.3h0M1052.6 535.6h0M1053.5 535.6h0M1054.3 535.6h0M1055.2 530.3h0M1056.1 535.6h0M1056.9 530.3h0M1057.8 530.3h0M1058.6 525.0h0M1059.5 530.3h0M1060.4 530.3h0M1061.2 530.3h0M1062.1 535.6h0M1062.9 541.0h0M1063.8 535.6h0M1064.7 535.6h0M1065.5 541.0h0M1066.4 535.6h0M1067.3 541.0h0M1068.1 546.0h0M1069.0 535.6h0M1069.8 535.6h0M1070.7 530.3h0M1071.6 535.6h0M1072.4 541.0h0M1073.3 535.6h0M1074.1 525.0h0M1075.0 530.3h0M1075.9 541.0h0M1076.7 567.4h0M1077.6 530.3h0M1078.5 530.3h0M1079.3 541.0h0M1080.2 535.6h0M1081.0 541.0h0M1081.9 535.6h0M1082.8 540.5h0M1083.6 541.0h0M1084.5 541.0h0M1085.3 541.0h0M1086.2 535.6h0M1087.1 541.0h0M1087.9 530.3h0M1088.8 541.0h0M1089.6 535.6h0M1090.5 535.6h0M1091.4 535.6h0M1092.2 530.3h0M1093.1 535.6h0M1094.0 535.6h0M1094.8 535.6h0M1095.7 540.5h0M1096.5 546.3h0M1097.4 535.6h0M1098.3 541.0h0M1099.1 546.3h0M1100.0 541.0h0M1100.8 546.3h0M1101.7 546.3h0M1102.6 535.6h0M1103.4 541.0h0M1104.3 541.0h0M1105.2 541.0h0M1106.0 535.6h0M1106.9 535.6h0M1107.7 541.0h0M1108.6 530.3h0M1109.5 541.0h0M1110.3 546.3h0M1111.2 541.0h0M1112.0 546.3h0M1112.9 551.7h0M1113.8 541.0h0M1114.6 551.7h0M1115.5 546.3h0M1116.3 546.3h0M1117.2 546.3h0M1118.1 535.6h0M1118.9 551.7h0M1119.8 551.0h0M1120.7 535.6h0M1121.5 546.3h0M1122.4 535.6h0M1123.2 546.3h0M1124.1 546.3h0M1125.0 546.3h0M1125.8 546.3h0M1126.7 541.0h0M1127.5 546.3h0M1128.4 535.6h0M1129.3 541.0h0M1130.1 551.7h0M1131.0 546.3h0M1131.9 541.0h0M1132.7 541.0h0M1133.6 546.3h0M1134.4 541.0h0M1135.3 535.6h0M1136.2 546.3h0M1137.0 535.6h0M1137.9 546.3h0M1138.7 535.6h0M1139.6 530.3h0M1140.5 541.0h0M1141.3 535.6h0M1142.2 535.6h0M1143.1 530.3h0M1143.9 530.3h0M1144.8 541.0h0M1145.6 546.0h0M1146.5 530.3h0M1147.4 535.6h0M1148.2 535.6h0M1149.1 541.0h0M1149.9 535.6h0M1150.8 530.3h0M1151.7 530.3h0M1152.5 535.6h0M1153.4 530.3h0M1154.2 535.6h0M1155.1 546.0h0M1156.0 541.0h0M1156.8 530.3h0M1157.7 525.0h0M1158.6 530.3h0M1159.4 535.6h0M1160.3 541.0h0M1161.1 583.8h0M1162.0 562.0h0M1162.9 535.6h0M1163.7 551.7h0M1164.6 557.0h0M1165.4 551.7h0M1166.3 541.0h0M1167.2 562.4h0M1168.0 562.4h0M1168.9 546.3h0M1169.8 557.0h0M1170.6 546.3h0M1171.5 541.0h0M1172.3 567.4h0M1173.2 541.0h0M1174.1 562.4h0M1174.9 562.4h0M1175.8 541.0h0M1176.6 541.0h0M1177.5 546.3h0M1178.4 541.0h0M1179.2 535.6h0M1180.1 541.0h0M1180.9 530.3h0M1181.8 530.3h0M1182.7 551.7h0M1183.5 541.0h0M1184.4 541.0h0M1185.3 530.3h0M1186.1 557.0h0M1187.0 546.3h0M1187.8 546.3h0M1188.7 535.6h0M1189.6 525.0h0M1190.4 551.7h0M1191.3 541.0h0M1192.1 546.3h0M1193.0 546.3h0M1193.9 530.3h0M1194.7 530.3h0M1195.6 546.3h0M1196.5 546.3h0M1197.3 546.3h0M1198.2 530.3h0M1199.0 551.7h0M1199.9 551.7h0M1200.8 535.6h0M1201.6 572.8h0M1202.5 530.3h0M1203.3 546.3h0M1204.2 535.6h0M1205.1 541.0h0M1205.9 551.0h0M1206.8 541.0h0M1207.6 535.6h0M1208.5 551.7h0M1209.4 546.3h0M1210.2 541.0h0M1211.1 546.0h0M1212.0 546.3h0M1212.8 546.3h0M1213.7 546.3h0M1214.5 530.3h0M1215.4 530.3h0M1216.3 530.3h0M1217.1 530.3h0M1218.0 535.6h0M1218.8 594.4h0M1219.7 535.6h0M1220.6 535.6h0M1221.4 557.0h0M1222.3 557.0h0M1223.2 535.6h0M1224.0 551.7h0M1224.9 546.3h0M1225.7 557.0h0M1226.6 573.0h0M1227.5 535.6h0M1228.3 562.0h0M1229.2 557.0h0M1230.0 551.7h0M1230.9 541.0h0M1231.8 541.0h0M1232.6 551.7h0M1233.5 562.4h0M1234.4 551.7h0M1235.2 546.3h0M1236.1 551.7h0M1236.9 541.0h0M1237.8 557.0h0M1238.7 541.0h0M1239.5 535.6h0M1240.4 551.7h0M1241.2 551.7h0M1242.1 551.7h0M1243.0 557.0h0M1243.8 557.0h0M1244.7 599.0h0M1245.5 594.5h0M1246.4 626.0h0M1247.3 643.0h0M1248.1 589.1h0M1249.0 562.4h0M1249.9 605.0h0M1250.7 605.0h0M1251.6 589.1h0M1252.4 594.5h0M1253.3 573.1h0M1254.2 589.1h0M1255.0 594.5h0M1255.9 573.1h0M1256.7 567.8h0M1257.6 626.0h0M1258.5 567.8h0M1259.3 620.0h0M1260.2 599.0h0M1261.1 594.5h0M1261.9 583.8h0M1262.8 573.1h0M1263.6 578.5h0M1264.5 567.8h0M1265.4 567.8h0M1266.2 578.0h0M1267.1 594.5h0M1267.9 599.0h0M1268.8 562.4h0M1269.7 562.4h0M1270.5 557.0h0M1271.4 546.3h0M1272.2 557.0h0M1273.1 551.7h0M1274.0 535.6h0M1274.8 541.0h0M1275.7 541.0h0M1276.6 530.3h0M1277.4 524.0h0M1278.3 535.6h0M1279.1 535.6h0M1280.0 535.6h0M1280.9 530.3h0M1281.7 557.0h0M1282.6 525.0h0M1283.4 541.0h0M1284.3 546.3h0M1285.2 541.0h0M1286.0 546.3h0M1286.9 530.3h0M1287.8 525.0h0M1288.6 551.7h0M1289.5 530.3h0M1290.3 557.0h0M1291.2 573.1h0M1292.1 551.7h0M1292.9 546.3h0M1293.8 573.0h0M1294.6 578.5h0M1295.5 573.1h0M1296.4 567.8h0M1297.2 578.5h0M1298.1 551.7h0M1298.9 567.8h0M1299.8 557.0h0M1300.7 557.0h0M1301.5 573.1h0M1302.4 562.4h0M1303.3 589.1h0M1304.1 562.4h0M1305.0 594.0h0M1305.8 589.1h0M1306.7 562.4h0M1307.6 583.8h0M1308.4 567.8h0M1309.3 589.1h0M1310.1 590.0h0M1311.0 557.0h0M1311.9 578.5h0M1312.7 567.8h0M1313.6 557.0h0M1314.5 557.0h0M1315.3 546.3h0M1316.2 557.0h0M1317.0 535.6h0M1317.9 621.0h0M1318.8 535.6h0M1319.6 541.0h0M1320.5 551.7h0M1321.3 541.0h0M1322.2 557.0h0M1323.1 541.0h0M1323.9 546.3h0M1324.8 541.0h0M1325.6 551.7h0M1326.5 541.0h0M1327.4 557.0h0M1328.2 541.0h0M1329.1 541.0h0M1330.0 546.3h0M1330.8 530.3h0M1331.7 535.6h0M1332.5 546.3h0M1333.4 535.6h0M1334.3 530.3h0M1335.1 546.3h0M1336.0 546.3h0M1336.8 551.7h0M1337.7 535.6h0M1338.6 535.6h0M1339.4 530.3h0M1340.3 530.3h0M1341.2 551.0h0M1342.0 546.3h0M1342.9 535.6h0M1343.7 530.3h0M1344.6 546.3h0M1345.5 535.6h0M1346.3 546.3h0M1347.2 546.3h0M1348.0 562.0h0M1348.9 535.6h0M1349.8 535.6h0M1350.6 541.0h0M1351.5 551.7h0M1352.4 530.3h0M1353.2 535.6h0M1354.1 530.3h0M1354.9 535.6h0M1355.8 541.0h0M1356.7 546.3h0M1357.5 546.3h0M1358.4 535.6h0M1359.2 541.0h0M1360.1 551.0h0M1361.0 541.0h0M1361.8 530.3h0M1362.7 541.0h0M1363.5 541.0h0M1364.4 546.3h0M1365.3 530.3h0M1366.1 541.0h0M1367.0 535.6h0M1367.9 567.0h0M1368.7 541.0h0M1369.6 546.3h0M1370.4 535.6h0M1371.3 535.6h0M1372.2 535.6h0M1373.0 535.6h0M1373.9 546.3h0M1374.7 535.6h0M1375.6 535.6h0M1376.5 551.7h0M1377.3 551.7h0M1378.2 546.3h0M1379.1 551.7h0M1379.9 557.0h0M1380.8 557.0h0M1381.6 551.7h0M1382.5 551.7h0M1383.4 541.0h0M1384.2 557.0h0M1385.1 562.0h0M1385.9 546.3h0M1386.8 551.7h0M1387.7 551.7h0M1388.5 551.7h0M1389.4 541.0h0M1390.2 551.7h0M1391.1 557.0h0M1392.0 541.0h0M1392.8 546.3h0M1393.7 541.0h0M1394.6 551.7h0M1395.4 546.3h0M1396.3 535.6h0M1397.1 535.6h0M1398.0 562.0h0M1398.9 541.0h0M1399.7 530.3h0M1400.6 530.3h0M1401.4 546.3h0M1402.3 535.6h0M1403.2 546.3h0M1404.0 557.0h0M1404.9 541.0h0M1405.8 530.3h0M1406.6 530.3h0M1407.5 541.0h0M1408.3 541.0h0M1409.2 535.6h0M1410.1 541.0h0M1410.9 535.6h0M1411.8 546.3h0M1412.6 546.3h0M1413.5 530.3h0M1414.4 535.6h0M1415.2 541.0h0M1416.1 615.7h0M1416.9 535.6h0M1417.8 551.7h0M1418.7 546.3h0M1419.5 546.3h0M1420.4 546.3h0M1421.3 572.6h0M1422.1 562.0h0M1423.0 541.0h0M1423.8 530.3h0M1424.7 541.0h0M1425.6 546.3h0M1426.4 541.0h0M1427.3 546.3h0M1428.1 530.3h0M1429.0 546.3h0M1429.9 546.3h0M1430.7 541.0h0M1431.6 541.0h0M1432.5 535.6h0M1433.3 541.0h0M1434.2 546.3h0M1435.0 535.6h0M1435.9 546.3h0M1436.8 541.0h0M1437.6 556.7h0M1438.5 535.6h0M1439.3 541.0h0M1440.2 541.0h0M1441.1 530.3h0M1441.9 535.6h0M1442.8 530.3h0M1443.7 535.6h0M1444.5 546.0h0M1445.4 541.0h0M1446.2 541.0h0M1447.1 535.6h0M1448.0 535.6h0M1448.8 535.6h0M1449.7 530.3h0M1450.5 541.0h0M1451.4 535.6h0M1452.3 541.0h0M1453.1 535.6h0M1454.0 541.0h0M1454.8 530.3h0M1455.7 557.0h0M1456.6 541.0h0M1457.4 535.6h0M1458.3 535.6h0M1459.2 530.3h0M1460.0 530.3h0M1460.9 535.6h0M1461.7 530.3h0M1462.6 541.0h0M1463.5 530.3h0M1464.3 541.0h0M1465.2 530.3h0M1466.0 535.6h0M1466.9 546.0h0M1467.8 525.0h0M1468.6 530.3h0M1469.5 530.3h0M1470.4 541.0h0M1471.2 535.6h0M1472.1 535.6h0M1472.9 541.0h0M1473.8 541.0h0M1474.7 535.6h0M1475.5 546.3h0M1476.4 541.0h0M1477.2 530.3h0M1478.1 541.0h0M1479.0 535.6h0M1479.8 535.6h0M1480.7 546.3h0M1481.5 546.3h0M1482.4 535.6h0M1483.3 541.0h0M1484.1 525.0h0M1485.0 525.0h0M1485.9 530.3h0M1486.7 541.0h0M1487.6 530.3h0M1488.4 535.6h0M1489.3 541.0h0M1490.2 541.0h0M1491.0 535.6h0M1491.9 535.6h0M1492.7 530.3h0M1493.6 530.3h0M1494.5 535.6h0M1495.3 535.6h0M1496.2 535.6h0M1497.1 541.0h0M1497.9 535.6h0M1498.8 530.3h0M1499.6 546.0h0M1500.5 525.0h0M1501.4 541.0h0M1502.2 530.3h0M1503.1 530.3h0M1503.9 525.0h0M1504.8 530.3h0M1505.7 530.3h0M1506.5 535.6h0M1507.4 535.6h0M1508.2 535.6h0M1509.1 541.0h0M1510.0 530.3h0M1510.8 541.0h0M1511.7 541.0h0M1512.6 530.3h0M1513.4 525.0h0M1514.3 541.0h0M1515.1 530.3h0M1516.0 541.0h0M1516.9 541.0h0M1517.7 541.0h0M1518.6 530.3h0M1519.4 530.3h0M1520.3 551.0h0M1521.2 546.3h0M1522.0 541.0h0M1522.9 535.6h0M1523.8 530.3h0M1524.6 535.6h0M1525.5 535.6h0M1526.3 530.3h0M1527.2 535.6h0M1528.1 535.6h0M1528.9 530.3h0M1529.8 589.0h0M1530.6 535.6h0M1531.5 535.6h0M1532.4 535.6h0M1533.2 546.3h0M1534.1 546.3h0M1535.0 535.6h0M1535.8 541.0h0M1536.7 535.6h0M1537.5 541.0h0M1538.4 535.6h0M1539.3 541.0h0M1540.1 535.6h0M1541.0 535.6h0M1541.8 541.0h0M1542.7 535.6h0M1543.6 541.0h0M1544.4 535.6h0M1545.3 546.0h0M1546.1 530.3h0M1547.0 535.6h0M1547.9 535.6h0M1548.7 530.3h0M1549.6 541.0h0M1550.5 535.6h0M1551.3 525.0h0M1552.2 530.3h0M1553.0 546.0h0M1553.9 541.0h0M1554.8 530.3h0M1555.6 541.0h0M1556.5 530.3h0M1557.3 535.6h0M1558.2 530.3h0M1559.1 525.0h0M1559.9 541.0h0M1560.8 530.3h0M1561.7 546.3h0M1562.5 546.3h0M1563.4 557.0h0M1564.2 546.3h0M1565.1 541.0h0M1566.0 541.0h0M1566.8 535.6h0M1567.7 530.3h0M1568.5 535.6h0M1569.4 541.0h0M1570.3 535.6h0M1571.1 525.0h0M1572.0 557.0h0M1572.8 530.3h0M1573.7 535.6h0M1574.6 535.6h0M1575.4 535.6h0M1576.3 535.6h0M1577.2 546.3h0M1578.0 541.0h0M1578.9 546.3h0M1579.7 551.7h0M1580.6 567.0h0M1581.5 551.7h0M1582.3 546.3h0M1583.2 557.0h0M1584.0 578.0h0M1584.9 562.4h0M1585.8 551.7h0M1586.6 567.8h0M1587.5 557.0h0M1588.4 551.7h0M1589.2 562.4h0M1590.1 551.7h0M1590.9 546.3h0M1591.8 578.0h0M1592.7 617.0h0M1593.5 562.4h0M1594.4 573.1h0M1595.2 567.8h0M1596.1 551.7h0M1597.0 562.0h0M1597.8 567.8h0M1598.7 530.0h0M1599.5 562.4h0M1600.4 557.0h0M1601.3 562.4h0M1602.1 573.1h0M1603.0 551.0h0M1603.9 557.0h0M1604.7 578.5h0M1605.6 578.5h0M1606.4 578.5h0M1607.3 594.0h0M1608.2 594.5h0M1609.0 567.8h0M1609.9 583.8h0M1610.7 589.1h0M1611.6 573.1h0M1612.5 589.1h0M1613.3 578.5h0M1614.2 589.1h0M1615.1 599.0h0M1615.9 589.1h0M1616.8 589.1h0M1617.6 578.5h0M1618.5 573.1h0M1619.4 578.5h0M1620.2 578.5h0M1621.1 583.8h0M1621.9 583.8h0M1622.8 578.5h0M1623.7 578.5h0M1624.5 583.8h0M1625.4 589.1h0M1626.3 583.8h0M1627.1 551.0h0M1628.0 589.1h0M1628.8 573.1h0M1629.7 595.0h0M1630.6 557.0h0M1631.4 551.7h0M1632.3 551.7h0M1633.1 535.6h0M1634.0 525.0h0M1634.9 530.3h0M1635.7 535.6h0M1636.6 541.0h0M1637.4 524.0h0M1638.3 530.3h0M1639.2 530.3h0M1640.0 535.6h0M1640.9 546.3h0M1641.8 524.0h0M1642.6 546.3h0M1643.5 541.0h0M1644.3 562.4h0M1645.2 551.7h0M1646.1 599.0h0M1646.9 562.4h0M1647.8 551.7h0M1648.6 583.8h0M1649.5 567.8h0M1650.4 557.0h0M1651.2 604.7h0M1652.1 557.0h0M1653.0 589.1h0M1653.8 530.0h0M1654.7 546.3h0" fill="none" stroke="#c03db8" stroke-width="6" stroke-linecap="round"/>
<defs><linearGradient id="sb" x1="0" y1="0" x2="0" y2="1"><stop offset="0" stop-color="#5b9fdc"/><stop offset="0.12" stop-color="#62b8f2"/><stop offset="0.5" stop-color="#2aa9f6"/><stop offset="1" stop-color="#35a3ea"/></linearGradient>
<linearGradient id="hd" x1="0" y1="0" x2="1" y2="0"><stop offset="0" stop-color="#f4f4f4"/><stop offset="0.7" stop-color="#e6e6e6"/><stop offset="1" stop-color="#cfcfd4"/></linearGradient></defs>
<rect x="135" y="898" width="1491" height="20.5" fill="url(#sb)"/>
<rect x="104.5" y="894.5" width="31" height="28.5" rx="2" fill="url(#hd)" stroke="#9d9d9d" stroke-width="1.5"/>
<path d="M114.7 903V913M119.6 903V913M124.4 903V913" stroke="#6c6c70" stroke-width="2"/>
<rect x="1625.5" y="894.5" width="31" height="28.5" rx="2" fill="url(#hd)" stroke="#9d9d9d" stroke-width="1.5"/>
<path d="M1635.7 903V913M1640.6 903V913M1645.4 903V913" stroke="#6c6c70" stroke-width="2"/>
<path d="M766 946H791" stroke="#c040bc" stroke-width="6"/>
<circle cx="778.5" cy="946" r="3.2" fill="#fff" stroke="#c040bc" stroke-width="2"/>
<text x="806" y="951" font-size="18" fill="#444" letter-spacing="-1.2" font-family="Liberation Sans, sans-serif">FPS</text>
<path d="M867 946H891" stroke="#3cc9cc" stroke-width="6"/>
<text x="906" y="951" font-size="18" fill="#444" letter-spacing="0.75" font-family="Liberation Sans, sans-serif">InterFrame</text>
</svg>
<div class="a" style="left:1398px;top:896px;font-size:44px;font-weight:bold;color:#fff;text-shadow:3px 3px 0 #000, 2px 2px 0 #000;font-family:'Liberation Sans','Noto Sans CJK SC',sans-serif;line-height:56px;">头条 @数字尾巴</div>

</body>
</html>
